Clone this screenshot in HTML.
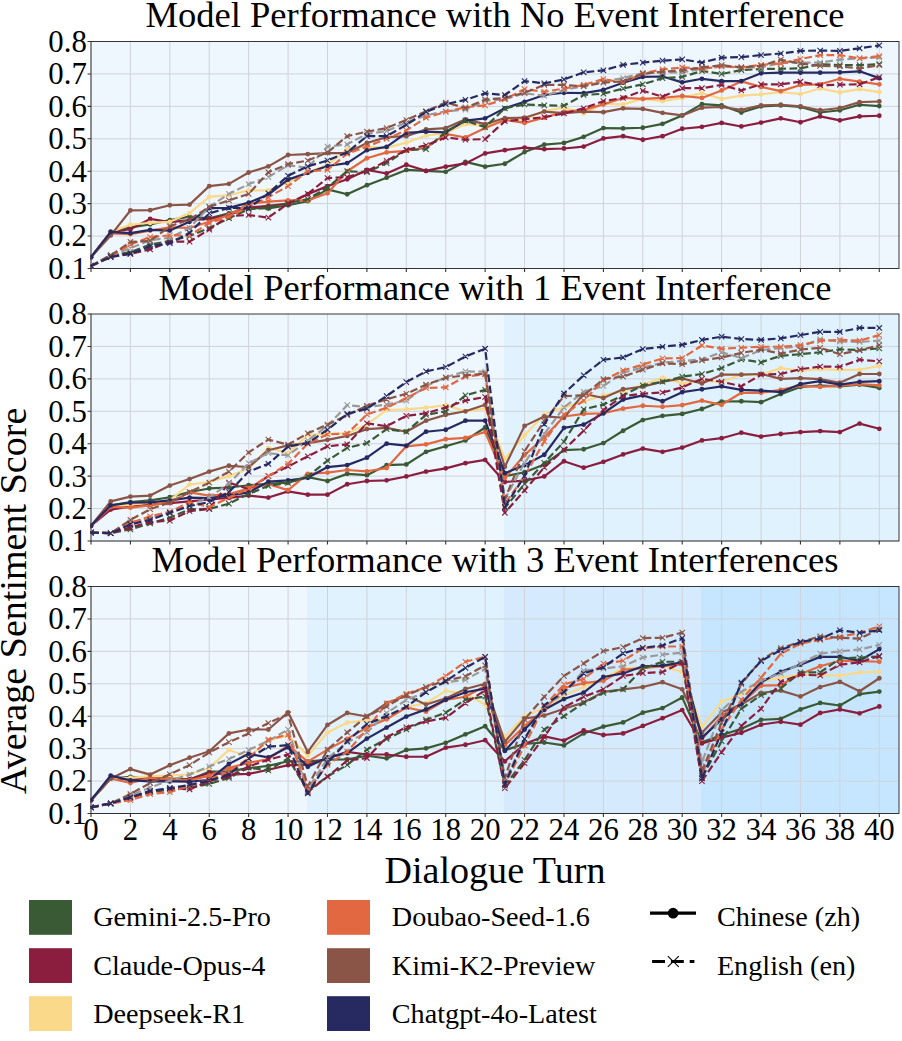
<!DOCTYPE html><html><head><meta charset="utf-8"><style>html,body{margin:0;padding:0;background:#fff;width:902px;height:1041px;overflow:hidden}</style></head><body><svg width="902" height="1041" viewBox="0 0 902 1041" style="display:block">
<rect width="902" height="1041" fill="#ffffff"/>
<rect x="91.00" y="41.50" width="808.00" height="227.00" fill="#eef6fe"/>
<path d="M91.00 268.50H899.00M91.00 236.07H899.00M91.00 203.64H899.00M91.00 171.21H899.00M91.00 138.79H899.00M91.00 106.36H899.00M91.00 73.93H899.00M91.00 41.50V268.50M130.41 41.50V268.50M169.83 41.50V268.50M209.24 41.50V268.50M248.66 41.50V268.50M288.07 41.50V268.50M327.49 41.50V268.50M366.90 41.50V268.50M406.32 41.50V268.50M445.73 41.50V268.50M485.15 41.50V268.50M524.56 41.50V268.50M563.98 41.50V268.50M603.39 41.50V268.50M642.80 41.50V268.50M682.22 41.50V268.50M721.63 41.50V268.50M761.05 41.50V268.50M800.46 41.50V268.50M839.88 41.50V268.50M879.29 41.50V268.50" stroke="#cfd3da" stroke-width="1" fill="none"/>
<rect x="91.00" y="41.50" width="808.00" height="227.00" fill="none" stroke="#222" stroke-width="0.9"/>
<g clip-path="url(#c0)">
<path d="M91.00 257.15 L110.71 231.86 L130.41 227.32 L150.12 224.40 L169.83 220.18 L189.54 216.61 L209.24 218.24 L228.95 213.37 L248.66 208.18 L268.37 208.51 L288.07 205.26 L307.78 201.05 L327.49 189.37 L347.20 194.24 L366.90 185.16 L386.61 177.70 L406.32 169.92 L426.02 170.89 L445.73 171.86 L465.44 161.81 L485.15 166.67 L504.85 163.76 L524.56 152.08 L544.27 144.62 L563.98 143.00 L583.68 136.84 L603.39 128.08 L623.10 128.41 L642.80 127.76 L662.51 123.87 L682.22 115.44 L701.93 104.09 L721.63 105.38 L741.34 112.52 L761.05 106.36 L780.76 105.38 L800.46 107.01 L820.17 112.52 L839.88 110.25 L859.59 104.74 L879.29 106.03" stroke="#3a5a36" stroke-width="2.2" fill="none" stroke-linejoin="round"/>
<circle cx="91.00" cy="257.15" r="2.4" fill="#3a5a36"/>
<circle cx="110.71" cy="231.86" r="2.4" fill="#3a5a36"/>
<circle cx="130.41" cy="227.32" r="2.4" fill="#3a5a36"/>
<circle cx="150.12" cy="224.40" r="2.4" fill="#3a5a36"/>
<circle cx="169.83" cy="220.18" r="2.4" fill="#3a5a36"/>
<circle cx="189.54" cy="216.61" r="2.4" fill="#3a5a36"/>
<circle cx="209.24" cy="218.24" r="2.4" fill="#3a5a36"/>
<circle cx="228.95" cy="213.37" r="2.4" fill="#3a5a36"/>
<circle cx="248.66" cy="208.18" r="2.4" fill="#3a5a36"/>
<circle cx="268.37" cy="208.51" r="2.4" fill="#3a5a36"/>
<circle cx="288.07" cy="205.26" r="2.4" fill="#3a5a36"/>
<circle cx="307.78" cy="201.05" r="2.4" fill="#3a5a36"/>
<circle cx="327.49" cy="189.37" r="2.4" fill="#3a5a36"/>
<circle cx="347.20" cy="194.24" r="2.4" fill="#3a5a36"/>
<circle cx="366.90" cy="185.16" r="2.4" fill="#3a5a36"/>
<circle cx="386.61" cy="177.70" r="2.4" fill="#3a5a36"/>
<circle cx="406.32" cy="169.92" r="2.4" fill="#3a5a36"/>
<circle cx="426.02" cy="170.89" r="2.4" fill="#3a5a36"/>
<circle cx="445.73" cy="171.86" r="2.4" fill="#3a5a36"/>
<circle cx="465.44" cy="161.81" r="2.4" fill="#3a5a36"/>
<circle cx="485.15" cy="166.67" r="2.4" fill="#3a5a36"/>
<circle cx="504.85" cy="163.76" r="2.4" fill="#3a5a36"/>
<circle cx="524.56" cy="152.08" r="2.4" fill="#3a5a36"/>
<circle cx="544.27" cy="144.62" r="2.4" fill="#3a5a36"/>
<circle cx="563.98" cy="143.00" r="2.4" fill="#3a5a36"/>
<circle cx="583.68" cy="136.84" r="2.4" fill="#3a5a36"/>
<circle cx="603.39" cy="128.08" r="2.4" fill="#3a5a36"/>
<circle cx="623.10" cy="128.41" r="2.4" fill="#3a5a36"/>
<circle cx="642.80" cy="127.76" r="2.4" fill="#3a5a36"/>
<circle cx="662.51" cy="123.87" r="2.4" fill="#3a5a36"/>
<circle cx="682.22" cy="115.44" r="2.4" fill="#3a5a36"/>
<circle cx="701.93" cy="104.09" r="2.4" fill="#3a5a36"/>
<circle cx="721.63" cy="105.38" r="2.4" fill="#3a5a36"/>
<circle cx="741.34" cy="112.52" r="2.4" fill="#3a5a36"/>
<circle cx="761.05" cy="106.36" r="2.4" fill="#3a5a36"/>
<circle cx="780.76" cy="105.38" r="2.4" fill="#3a5a36"/>
<circle cx="800.46" cy="107.01" r="2.4" fill="#3a5a36"/>
<circle cx="820.17" cy="112.52" r="2.4" fill="#3a5a36"/>
<circle cx="839.88" cy="110.25" r="2.4" fill="#3a5a36"/>
<circle cx="859.59" cy="104.74" r="2.4" fill="#3a5a36"/>
<circle cx="879.29" cy="106.03" r="2.4" fill="#3a5a36"/>
<path d="M91.00 257.15 L110.71 231.86 L130.41 229.26 L150.12 218.88 L169.83 222.13 L189.54 220.18 L209.24 218.88 L228.95 214.99 L248.66 207.53 L268.37 205.91 L288.07 203.64 L307.78 194.24 L327.49 186.13 L347.20 179.32 L366.90 169.92 L386.61 173.48 L406.32 164.73 L426.02 170.89 L445.73 166.67 L465.44 163.43 L485.15 153.38 L504.85 150.14 L524.56 147.54 L544.27 149.16 L563.98 148.51 L583.68 146.57 L603.39 138.46 L623.10 136.19 L642.80 139.76 L662.51 136.19 L682.22 128.73 L701.93 126.79 L721.63 122.90 L741.34 126.46 L761.05 122.57 L780.76 118.36 L800.46 122.25 L820.17 116.41 L839.88 120.30 L859.59 116.41 L879.29 115.76" stroke="#8b1e3e" stroke-width="2.2" fill="none" stroke-linejoin="round"/>
<circle cx="91.00" cy="257.15" r="2.4" fill="#8b1e3e"/>
<circle cx="110.71" cy="231.86" r="2.4" fill="#8b1e3e"/>
<circle cx="130.41" cy="229.26" r="2.4" fill="#8b1e3e"/>
<circle cx="150.12" cy="218.88" r="2.4" fill="#8b1e3e"/>
<circle cx="169.83" cy="222.13" r="2.4" fill="#8b1e3e"/>
<circle cx="189.54" cy="220.18" r="2.4" fill="#8b1e3e"/>
<circle cx="209.24" cy="218.88" r="2.4" fill="#8b1e3e"/>
<circle cx="228.95" cy="214.99" r="2.4" fill="#8b1e3e"/>
<circle cx="248.66" cy="207.53" r="2.4" fill="#8b1e3e"/>
<circle cx="268.37" cy="205.91" r="2.4" fill="#8b1e3e"/>
<circle cx="288.07" cy="203.64" r="2.4" fill="#8b1e3e"/>
<circle cx="307.78" cy="194.24" r="2.4" fill="#8b1e3e"/>
<circle cx="327.49" cy="186.13" r="2.4" fill="#8b1e3e"/>
<circle cx="347.20" cy="179.32" r="2.4" fill="#8b1e3e"/>
<circle cx="366.90" cy="169.92" r="2.4" fill="#8b1e3e"/>
<circle cx="386.61" cy="173.48" r="2.4" fill="#8b1e3e"/>
<circle cx="406.32" cy="164.73" r="2.4" fill="#8b1e3e"/>
<circle cx="426.02" cy="170.89" r="2.4" fill="#8b1e3e"/>
<circle cx="445.73" cy="166.67" r="2.4" fill="#8b1e3e"/>
<circle cx="465.44" cy="163.43" r="2.4" fill="#8b1e3e"/>
<circle cx="485.15" cy="153.38" r="2.4" fill="#8b1e3e"/>
<circle cx="504.85" cy="150.14" r="2.4" fill="#8b1e3e"/>
<circle cx="524.56" cy="147.54" r="2.4" fill="#8b1e3e"/>
<circle cx="544.27" cy="149.16" r="2.4" fill="#8b1e3e"/>
<circle cx="563.98" cy="148.51" r="2.4" fill="#8b1e3e"/>
<circle cx="583.68" cy="146.57" r="2.4" fill="#8b1e3e"/>
<circle cx="603.39" cy="138.46" r="2.4" fill="#8b1e3e"/>
<circle cx="623.10" cy="136.19" r="2.4" fill="#8b1e3e"/>
<circle cx="642.80" cy="139.76" r="2.4" fill="#8b1e3e"/>
<circle cx="662.51" cy="136.19" r="2.4" fill="#8b1e3e"/>
<circle cx="682.22" cy="128.73" r="2.4" fill="#8b1e3e"/>
<circle cx="701.93" cy="126.79" r="2.4" fill="#8b1e3e"/>
<circle cx="721.63" cy="122.90" r="2.4" fill="#8b1e3e"/>
<circle cx="741.34" cy="126.46" r="2.4" fill="#8b1e3e"/>
<circle cx="761.05" cy="122.57" r="2.4" fill="#8b1e3e"/>
<circle cx="780.76" cy="118.36" r="2.4" fill="#8b1e3e"/>
<circle cx="800.46" cy="122.25" r="2.4" fill="#8b1e3e"/>
<circle cx="820.17" cy="116.41" r="2.4" fill="#8b1e3e"/>
<circle cx="839.88" cy="120.30" r="2.4" fill="#8b1e3e"/>
<circle cx="859.59" cy="116.41" r="2.4" fill="#8b1e3e"/>
<circle cx="879.29" cy="115.76" r="2.4" fill="#8b1e3e"/>
<path d="M91.00 257.15 L110.71 231.86 L130.41 224.72 L150.12 222.78 L169.83 221.80 L189.54 213.05 L209.24 196.83 L228.95 195.21 L248.66 190.35 L268.37 190.35 L288.07 182.56 L307.78 172.19 L327.49 165.38 L347.20 148.84 L366.90 146.89 L386.61 147.87 L406.32 142.68 L426.02 135.54 L445.73 132.95 L465.44 124.19 L485.15 125.81 L504.85 119.98 L524.56 119.33 L544.27 111.22 L563.98 107.33 L583.68 113.49 L603.39 103.76 L623.10 104.41 L642.80 98.90 L662.51 101.17 L682.22 97.93 L701.93 93.06 L721.63 98.90 L741.34 95.66 L761.05 94.36 L780.76 92.09 L800.46 94.03 L820.17 88.52 L839.88 92.41 L859.59 89.17 L879.29 92.09" stroke="#fbd98a" stroke-width="2.2" fill="none" stroke-linejoin="round"/>
<circle cx="91.00" cy="257.15" r="2.4" fill="#fbd98a"/>
<circle cx="110.71" cy="231.86" r="2.4" fill="#fbd98a"/>
<circle cx="130.41" cy="224.72" r="2.4" fill="#fbd98a"/>
<circle cx="150.12" cy="222.78" r="2.4" fill="#fbd98a"/>
<circle cx="169.83" cy="221.80" r="2.4" fill="#fbd98a"/>
<circle cx="189.54" cy="213.05" r="2.4" fill="#fbd98a"/>
<circle cx="209.24" cy="196.83" r="2.4" fill="#fbd98a"/>
<circle cx="228.95" cy="195.21" r="2.4" fill="#fbd98a"/>
<circle cx="248.66" cy="190.35" r="2.4" fill="#fbd98a"/>
<circle cx="268.37" cy="190.35" r="2.4" fill="#fbd98a"/>
<circle cx="288.07" cy="182.56" r="2.4" fill="#fbd98a"/>
<circle cx="307.78" cy="172.19" r="2.4" fill="#fbd98a"/>
<circle cx="327.49" cy="165.38" r="2.4" fill="#fbd98a"/>
<circle cx="347.20" cy="148.84" r="2.4" fill="#fbd98a"/>
<circle cx="366.90" cy="146.89" r="2.4" fill="#fbd98a"/>
<circle cx="386.61" cy="147.87" r="2.4" fill="#fbd98a"/>
<circle cx="406.32" cy="142.68" r="2.4" fill="#fbd98a"/>
<circle cx="426.02" cy="135.54" r="2.4" fill="#fbd98a"/>
<circle cx="445.73" cy="132.95" r="2.4" fill="#fbd98a"/>
<circle cx="465.44" cy="124.19" r="2.4" fill="#fbd98a"/>
<circle cx="485.15" cy="125.81" r="2.4" fill="#fbd98a"/>
<circle cx="504.85" cy="119.98" r="2.4" fill="#fbd98a"/>
<circle cx="524.56" cy="119.33" r="2.4" fill="#fbd98a"/>
<circle cx="544.27" cy="111.22" r="2.4" fill="#fbd98a"/>
<circle cx="563.98" cy="107.33" r="2.4" fill="#fbd98a"/>
<circle cx="583.68" cy="113.49" r="2.4" fill="#fbd98a"/>
<circle cx="603.39" cy="103.76" r="2.4" fill="#fbd98a"/>
<circle cx="623.10" cy="104.41" r="2.4" fill="#fbd98a"/>
<circle cx="642.80" cy="98.90" r="2.4" fill="#fbd98a"/>
<circle cx="662.51" cy="101.17" r="2.4" fill="#fbd98a"/>
<circle cx="682.22" cy="97.93" r="2.4" fill="#fbd98a"/>
<circle cx="701.93" cy="93.06" r="2.4" fill="#fbd98a"/>
<circle cx="721.63" cy="98.90" r="2.4" fill="#fbd98a"/>
<circle cx="741.34" cy="95.66" r="2.4" fill="#fbd98a"/>
<circle cx="761.05" cy="94.36" r="2.4" fill="#fbd98a"/>
<circle cx="780.76" cy="92.09" r="2.4" fill="#fbd98a"/>
<circle cx="800.46" cy="94.03" r="2.4" fill="#fbd98a"/>
<circle cx="820.17" cy="88.52" r="2.4" fill="#fbd98a"/>
<circle cx="839.88" cy="92.41" r="2.4" fill="#fbd98a"/>
<circle cx="859.59" cy="89.17" r="2.4" fill="#fbd98a"/>
<circle cx="879.29" cy="92.09" r="2.4" fill="#fbd98a"/>
<path d="M91.00 257.15 L110.71 233.48 L130.41 234.13 L150.12 230.56 L169.83 227.32 L189.54 227.96 L209.24 221.80 L228.95 214.99 L248.66 203.64 L268.37 201.70 L288.07 200.40 L307.78 200.40 L327.49 193.27 L347.20 171.21 L366.90 158.24 L386.61 152.41 L406.32 150.78 L426.02 147.87 L445.73 133.92 L465.44 137.49 L485.15 128.08 L504.85 119.98 L524.56 122.90 L544.27 117.71 L563.98 111.87 L583.68 109.92 L603.39 104.41 L623.10 97.93 L642.80 98.90 L662.51 97.93 L682.22 95.98 L701.93 97.93 L721.63 90.47 L741.34 81.39 L761.05 86.90 L780.76 91.12 L800.46 84.95 L820.17 84.31 L839.88 78.79 L859.59 81.71 L879.29 84.31" stroke="#e26841" stroke-width="2.2" fill="none" stroke-linejoin="round"/>
<circle cx="91.00" cy="257.15" r="2.4" fill="#e26841"/>
<circle cx="110.71" cy="233.48" r="2.4" fill="#e26841"/>
<circle cx="130.41" cy="234.13" r="2.4" fill="#e26841"/>
<circle cx="150.12" cy="230.56" r="2.4" fill="#e26841"/>
<circle cx="169.83" cy="227.32" r="2.4" fill="#e26841"/>
<circle cx="189.54" cy="227.96" r="2.4" fill="#e26841"/>
<circle cx="209.24" cy="221.80" r="2.4" fill="#e26841"/>
<circle cx="228.95" cy="214.99" r="2.4" fill="#e26841"/>
<circle cx="248.66" cy="203.64" r="2.4" fill="#e26841"/>
<circle cx="268.37" cy="201.70" r="2.4" fill="#e26841"/>
<circle cx="288.07" cy="200.40" r="2.4" fill="#e26841"/>
<circle cx="307.78" cy="200.40" r="2.4" fill="#e26841"/>
<circle cx="327.49" cy="193.27" r="2.4" fill="#e26841"/>
<circle cx="347.20" cy="171.21" r="2.4" fill="#e26841"/>
<circle cx="366.90" cy="158.24" r="2.4" fill="#e26841"/>
<circle cx="386.61" cy="152.41" r="2.4" fill="#e26841"/>
<circle cx="406.32" cy="150.78" r="2.4" fill="#e26841"/>
<circle cx="426.02" cy="147.87" r="2.4" fill="#e26841"/>
<circle cx="445.73" cy="133.92" r="2.4" fill="#e26841"/>
<circle cx="465.44" cy="137.49" r="2.4" fill="#e26841"/>
<circle cx="485.15" cy="128.08" r="2.4" fill="#e26841"/>
<circle cx="504.85" cy="119.98" r="2.4" fill="#e26841"/>
<circle cx="524.56" cy="122.90" r="2.4" fill="#e26841"/>
<circle cx="544.27" cy="117.71" r="2.4" fill="#e26841"/>
<circle cx="563.98" cy="111.87" r="2.4" fill="#e26841"/>
<circle cx="583.68" cy="109.92" r="2.4" fill="#e26841"/>
<circle cx="603.39" cy="104.41" r="2.4" fill="#e26841"/>
<circle cx="623.10" cy="97.93" r="2.4" fill="#e26841"/>
<circle cx="642.80" cy="98.90" r="2.4" fill="#e26841"/>
<circle cx="662.51" cy="97.93" r="2.4" fill="#e26841"/>
<circle cx="682.22" cy="95.98" r="2.4" fill="#e26841"/>
<circle cx="701.93" cy="97.93" r="2.4" fill="#e26841"/>
<circle cx="721.63" cy="90.47" r="2.4" fill="#e26841"/>
<circle cx="741.34" cy="81.39" r="2.4" fill="#e26841"/>
<circle cx="761.05" cy="86.90" r="2.4" fill="#e26841"/>
<circle cx="780.76" cy="91.12" r="2.4" fill="#e26841"/>
<circle cx="800.46" cy="84.95" r="2.4" fill="#e26841"/>
<circle cx="820.17" cy="84.31" r="2.4" fill="#e26841"/>
<circle cx="839.88" cy="78.79" r="2.4" fill="#e26841"/>
<circle cx="859.59" cy="81.71" r="2.4" fill="#e26841"/>
<circle cx="879.29" cy="84.31" r="2.4" fill="#e26841"/>
<path d="M91.00 257.15 L110.71 235.42 L130.41 210.45 L150.12 210.13 L169.83 205.26 L189.54 204.62 L209.24 186.13 L228.95 183.86 L248.66 172.51 L268.37 166.35 L288.07 155.00 L307.78 154.03 L327.49 153.05 L347.20 153.05 L366.90 143.00 L386.61 137.16 L406.32 136.19 L426.02 129.38 L445.73 128.08 L465.44 119.33 L485.15 124.19 L504.85 118.03 L524.56 117.71 L544.27 111.55 L563.98 113.17 L583.68 111.55 L603.39 112.19 L623.10 108.30 L642.80 108.95 L662.51 112.84 L682.22 115.44 L701.93 107.65 L721.63 107.01 L741.34 109.92 L761.05 105.38 L780.76 104.74 L800.46 106.36 L820.17 110.25 L839.88 107.98 L859.59 102.14 L879.29 101.49" stroke="#8a5547" stroke-width="2.2" fill="none" stroke-linejoin="round"/>
<circle cx="91.00" cy="257.15" r="2.4" fill="#8a5547"/>
<circle cx="110.71" cy="235.42" r="2.4" fill="#8a5547"/>
<circle cx="130.41" cy="210.45" r="2.4" fill="#8a5547"/>
<circle cx="150.12" cy="210.13" r="2.4" fill="#8a5547"/>
<circle cx="169.83" cy="205.26" r="2.4" fill="#8a5547"/>
<circle cx="189.54" cy="204.62" r="2.4" fill="#8a5547"/>
<circle cx="209.24" cy="186.13" r="2.4" fill="#8a5547"/>
<circle cx="228.95" cy="183.86" r="2.4" fill="#8a5547"/>
<circle cx="248.66" cy="172.51" r="2.4" fill="#8a5547"/>
<circle cx="268.37" cy="166.35" r="2.4" fill="#8a5547"/>
<circle cx="288.07" cy="155.00" r="2.4" fill="#8a5547"/>
<circle cx="307.78" cy="154.03" r="2.4" fill="#8a5547"/>
<circle cx="327.49" cy="153.05" r="2.4" fill="#8a5547"/>
<circle cx="347.20" cy="153.05" r="2.4" fill="#8a5547"/>
<circle cx="366.90" cy="143.00" r="2.4" fill="#8a5547"/>
<circle cx="386.61" cy="137.16" r="2.4" fill="#8a5547"/>
<circle cx="406.32" cy="136.19" r="2.4" fill="#8a5547"/>
<circle cx="426.02" cy="129.38" r="2.4" fill="#8a5547"/>
<circle cx="445.73" cy="128.08" r="2.4" fill="#8a5547"/>
<circle cx="465.44" cy="119.33" r="2.4" fill="#8a5547"/>
<circle cx="485.15" cy="124.19" r="2.4" fill="#8a5547"/>
<circle cx="504.85" cy="118.03" r="2.4" fill="#8a5547"/>
<circle cx="524.56" cy="117.71" r="2.4" fill="#8a5547"/>
<circle cx="544.27" cy="111.55" r="2.4" fill="#8a5547"/>
<circle cx="563.98" cy="113.17" r="2.4" fill="#8a5547"/>
<circle cx="583.68" cy="111.55" r="2.4" fill="#8a5547"/>
<circle cx="603.39" cy="112.19" r="2.4" fill="#8a5547"/>
<circle cx="623.10" cy="108.30" r="2.4" fill="#8a5547"/>
<circle cx="642.80" cy="108.95" r="2.4" fill="#8a5547"/>
<circle cx="662.51" cy="112.84" r="2.4" fill="#8a5547"/>
<circle cx="682.22" cy="115.44" r="2.4" fill="#8a5547"/>
<circle cx="701.93" cy="107.65" r="2.4" fill="#8a5547"/>
<circle cx="721.63" cy="107.01" r="2.4" fill="#8a5547"/>
<circle cx="741.34" cy="109.92" r="2.4" fill="#8a5547"/>
<circle cx="761.05" cy="105.38" r="2.4" fill="#8a5547"/>
<circle cx="780.76" cy="104.74" r="2.4" fill="#8a5547"/>
<circle cx="800.46" cy="106.36" r="2.4" fill="#8a5547"/>
<circle cx="820.17" cy="110.25" r="2.4" fill="#8a5547"/>
<circle cx="839.88" cy="107.98" r="2.4" fill="#8a5547"/>
<circle cx="859.59" cy="102.14" r="2.4" fill="#8a5547"/>
<circle cx="879.29" cy="101.49" r="2.4" fill="#8a5547"/>
<path d="M91.00 257.15 L110.71 231.86 L130.41 233.15 L150.12 229.91 L169.83 230.56 L189.54 221.80 L209.24 208.18 L228.95 207.86 L248.66 202.67 L268.37 194.56 L288.07 179.65 L307.78 172.84 L327.49 166.03 L347.20 163.11 L366.90 150.14 L386.61 146.89 L406.32 132.95 L426.02 131.65 L445.73 132.30 L465.44 120.63 L485.15 118.36 L504.85 108.30 L524.56 101.82 L544.27 95.01 L563.98 92.74 L583.68 93.06 L603.39 89.82 L623.10 82.68 L642.80 76.85 L662.51 76.52 L682.22 82.36 L701.93 78.79 L721.63 81.06 L741.34 81.06 L761.05 73.28 L780.76 72.63 L800.46 72.63 L820.17 72.63 L839.88 72.31 L859.59 71.33 L879.29 78.14" stroke="#272a60" stroke-width="2.2" fill="none" stroke-linejoin="round"/>
<circle cx="91.00" cy="257.15" r="2.4" fill="#272a60"/>
<circle cx="110.71" cy="231.86" r="2.4" fill="#272a60"/>
<circle cx="130.41" cy="233.15" r="2.4" fill="#272a60"/>
<circle cx="150.12" cy="229.91" r="2.4" fill="#272a60"/>
<circle cx="169.83" cy="230.56" r="2.4" fill="#272a60"/>
<circle cx="189.54" cy="221.80" r="2.4" fill="#272a60"/>
<circle cx="209.24" cy="208.18" r="2.4" fill="#272a60"/>
<circle cx="228.95" cy="207.86" r="2.4" fill="#272a60"/>
<circle cx="248.66" cy="202.67" r="2.4" fill="#272a60"/>
<circle cx="268.37" cy="194.56" r="2.4" fill="#272a60"/>
<circle cx="288.07" cy="179.65" r="2.4" fill="#272a60"/>
<circle cx="307.78" cy="172.84" r="2.4" fill="#272a60"/>
<circle cx="327.49" cy="166.03" r="2.4" fill="#272a60"/>
<circle cx="347.20" cy="163.11" r="2.4" fill="#272a60"/>
<circle cx="366.90" cy="150.14" r="2.4" fill="#272a60"/>
<circle cx="386.61" cy="146.89" r="2.4" fill="#272a60"/>
<circle cx="406.32" cy="132.95" r="2.4" fill="#272a60"/>
<circle cx="426.02" cy="131.65" r="2.4" fill="#272a60"/>
<circle cx="445.73" cy="132.30" r="2.4" fill="#272a60"/>
<circle cx="465.44" cy="120.63" r="2.4" fill="#272a60"/>
<circle cx="485.15" cy="118.36" r="2.4" fill="#272a60"/>
<circle cx="504.85" cy="108.30" r="2.4" fill="#272a60"/>
<circle cx="524.56" cy="101.82" r="2.4" fill="#272a60"/>
<circle cx="544.27" cy="95.01" r="2.4" fill="#272a60"/>
<circle cx="563.98" cy="92.74" r="2.4" fill="#272a60"/>
<circle cx="583.68" cy="93.06" r="2.4" fill="#272a60"/>
<circle cx="603.39" cy="89.82" r="2.4" fill="#272a60"/>
<circle cx="623.10" cy="82.68" r="2.4" fill="#272a60"/>
<circle cx="642.80" cy="76.85" r="2.4" fill="#272a60"/>
<circle cx="662.51" cy="76.52" r="2.4" fill="#272a60"/>
<circle cx="682.22" cy="82.36" r="2.4" fill="#272a60"/>
<circle cx="701.93" cy="78.79" r="2.4" fill="#272a60"/>
<circle cx="721.63" cy="81.06" r="2.4" fill="#272a60"/>
<circle cx="741.34" cy="81.06" r="2.4" fill="#272a60"/>
<circle cx="761.05" cy="73.28" r="2.4" fill="#272a60"/>
<circle cx="780.76" cy="72.63" r="2.4" fill="#272a60"/>
<circle cx="800.46" cy="72.63" r="2.4" fill="#272a60"/>
<circle cx="820.17" cy="72.63" r="2.4" fill="#272a60"/>
<circle cx="839.88" cy="72.31" r="2.4" fill="#272a60"/>
<circle cx="859.59" cy="71.33" r="2.4" fill="#272a60"/>
<circle cx="879.29" cy="78.14" r="2.4" fill="#272a60"/>
<path d="M91.00 265.91 L110.71 255.20 L130.41 252.29 L150.12 244.50 L169.83 240.94 L189.54 236.07 L209.24 227.96 L228.95 218.24 L248.66 209.16 L268.37 207.53 L288.07 202.99 L307.78 199.10 L327.49 187.43 L347.20 171.21 L366.90 172.19 L386.61 163.11 L406.32 150.14 L426.02 149.16 L445.73 131.65 L465.44 120.63 L485.15 127.11 L504.85 108.30 L524.56 104.41 L544.27 105.38 L563.98 105.71 L583.68 95.01 L603.39 93.71 L623.10 88.52 L642.80 84.31 L662.51 78.14 L682.22 76.85 L701.93 71.01 L721.63 73.93 L741.34 70.04 L761.05 69.06 L780.76 68.74 L800.46 68.42 L820.17 64.20 L839.88 65.17 L859.59 65.17 L879.29 64.20" stroke="#3a5a36" stroke-width="2.2" fill="none" stroke-dasharray="7.8,3.4" stroke-linejoin="round"/>
<path d="M88.30 263.21l5.4 5.4m0 -5.4l-5.4 5.4M108.01 252.50l5.4 5.4m0 -5.4l-5.4 5.4M127.71 249.59l5.4 5.4m0 -5.4l-5.4 5.4M147.42 241.80l5.4 5.4m0 -5.4l-5.4 5.4M167.13 238.24l5.4 5.4m0 -5.4l-5.4 5.4M186.84 233.37l5.4 5.4m0 -5.4l-5.4 5.4M206.54 225.26l5.4 5.4m0 -5.4l-5.4 5.4M226.25 215.54l5.4 5.4m0 -5.4l-5.4 5.4M245.96 206.46l5.4 5.4m0 -5.4l-5.4 5.4M265.67 204.83l5.4 5.4m0 -5.4l-5.4 5.4M285.37 200.29l5.4 5.4m0 -5.4l-5.4 5.4M305.08 196.40l5.4 5.4m0 -5.4l-5.4 5.4M324.79 184.73l5.4 5.4m0 -5.4l-5.4 5.4M344.50 168.51l5.4 5.4m0 -5.4l-5.4 5.4M364.20 169.49l5.4 5.4m0 -5.4l-5.4 5.4M383.91 160.41l5.4 5.4m0 -5.4l-5.4 5.4M403.62 147.44l5.4 5.4m0 -5.4l-5.4 5.4M423.32 146.46l5.4 5.4m0 -5.4l-5.4 5.4M443.03 128.95l5.4 5.4m0 -5.4l-5.4 5.4M462.74 117.93l5.4 5.4m0 -5.4l-5.4 5.4M482.45 124.41l5.4 5.4m0 -5.4l-5.4 5.4M502.15 105.60l5.4 5.4m0 -5.4l-5.4 5.4M521.86 101.71l5.4 5.4m0 -5.4l-5.4 5.4M541.57 102.68l5.4 5.4m0 -5.4l-5.4 5.4M561.28 103.01l5.4 5.4m0 -5.4l-5.4 5.4M580.98 92.31l5.4 5.4m0 -5.4l-5.4 5.4M600.69 91.01l5.4 5.4m0 -5.4l-5.4 5.4M620.40 85.82l5.4 5.4m0 -5.4l-5.4 5.4M640.10 81.61l5.4 5.4m0 -5.4l-5.4 5.4M659.81 75.44l5.4 5.4m0 -5.4l-5.4 5.4M679.52 74.15l5.4 5.4m0 -5.4l-5.4 5.4M699.23 68.31l5.4 5.4m0 -5.4l-5.4 5.4M718.93 71.23l5.4 5.4m0 -5.4l-5.4 5.4M738.64 67.34l5.4 5.4m0 -5.4l-5.4 5.4M758.35 66.36l5.4 5.4m0 -5.4l-5.4 5.4M778.06 66.04l5.4 5.4m0 -5.4l-5.4 5.4M797.76 65.72l5.4 5.4m0 -5.4l-5.4 5.4M817.47 61.50l5.4 5.4m0 -5.4l-5.4 5.4M837.18 62.47l5.4 5.4m0 -5.4l-5.4 5.4M856.89 62.47l5.4 5.4m0 -5.4l-5.4 5.4M876.59 61.50l5.4 5.4m0 -5.4l-5.4 5.4" stroke="#3a5a36" stroke-width="1.1" fill="none"/>
<path d="M91.00 265.91 L110.71 257.15 L130.41 253.91 L150.12 249.37 L169.83 241.58 L189.54 241.58 L209.24 229.59 L228.95 215.97 L248.66 214.99 L268.37 217.59 L288.07 203.64 L307.78 193.91 L327.49 178.02 L347.20 177.05 L366.90 171.21 L386.61 160.84 L406.32 149.81 L426.02 145.27 L445.73 137.49 L465.44 139.76 L485.15 139.11 L504.85 121.27 L524.56 119.33 L544.27 117.06 L563.98 113.49 L583.68 108.30 L603.39 101.17 L623.10 97.93 L642.80 90.79 L662.51 96.63 L682.22 88.20 L701.93 88.20 L721.63 84.95 L741.34 90.47 L761.05 84.31 L780.76 84.31 L800.46 81.71 L820.17 85.28 L839.88 84.63 L859.59 84.31 L879.29 77.17" stroke="#8b1e3e" stroke-width="2.2" fill="none" stroke-dasharray="7.8,3.4" stroke-linejoin="round"/>
<path d="M88.30 263.21l5.4 5.4m0 -5.4l-5.4 5.4M108.01 254.45l5.4 5.4m0 -5.4l-5.4 5.4M127.71 251.21l5.4 5.4m0 -5.4l-5.4 5.4M147.42 246.67l5.4 5.4m0 -5.4l-5.4 5.4M167.13 238.88l5.4 5.4m0 -5.4l-5.4 5.4M186.84 238.88l5.4 5.4m0 -5.4l-5.4 5.4M206.54 226.89l5.4 5.4m0 -5.4l-5.4 5.4M226.25 213.27l5.4 5.4m0 -5.4l-5.4 5.4M245.96 212.29l5.4 5.4m0 -5.4l-5.4 5.4M265.67 214.89l5.4 5.4m0 -5.4l-5.4 5.4M285.37 200.94l5.4 5.4m0 -5.4l-5.4 5.4M305.08 191.21l5.4 5.4m0 -5.4l-5.4 5.4M324.79 175.32l5.4 5.4m0 -5.4l-5.4 5.4M344.50 174.35l5.4 5.4m0 -5.4l-5.4 5.4M364.20 168.51l5.4 5.4m0 -5.4l-5.4 5.4M383.91 158.14l5.4 5.4m0 -5.4l-5.4 5.4M403.62 147.11l5.4 5.4m0 -5.4l-5.4 5.4M423.32 142.57l5.4 5.4m0 -5.4l-5.4 5.4M443.03 134.79l5.4 5.4m0 -5.4l-5.4 5.4M462.74 137.06l5.4 5.4m0 -5.4l-5.4 5.4M482.45 136.41l5.4 5.4m0 -5.4l-5.4 5.4M502.15 118.57l5.4 5.4m0 -5.4l-5.4 5.4M521.86 116.63l5.4 5.4m0 -5.4l-5.4 5.4M541.57 114.36l5.4 5.4m0 -5.4l-5.4 5.4M561.28 110.79l5.4 5.4m0 -5.4l-5.4 5.4M580.98 105.60l5.4 5.4m0 -5.4l-5.4 5.4M600.69 98.47l5.4 5.4m0 -5.4l-5.4 5.4M620.40 95.23l5.4 5.4m0 -5.4l-5.4 5.4M640.10 88.09l5.4 5.4m0 -5.4l-5.4 5.4M659.81 93.93l5.4 5.4m0 -5.4l-5.4 5.4M679.52 85.50l5.4 5.4m0 -5.4l-5.4 5.4M699.23 85.50l5.4 5.4m0 -5.4l-5.4 5.4M718.93 82.25l5.4 5.4m0 -5.4l-5.4 5.4M738.64 87.77l5.4 5.4m0 -5.4l-5.4 5.4M758.35 81.61l5.4 5.4m0 -5.4l-5.4 5.4M778.06 81.61l5.4 5.4m0 -5.4l-5.4 5.4M797.76 79.01l5.4 5.4m0 -5.4l-5.4 5.4M817.47 82.58l5.4 5.4m0 -5.4l-5.4 5.4M837.18 81.93l5.4 5.4m0 -5.4l-5.4 5.4M856.89 81.61l5.4 5.4m0 -5.4l-5.4 5.4M876.59 74.47l5.4 5.4m0 -5.4l-5.4 5.4" stroke="#8b1e3e" stroke-width="1.1" fill="none"/>
<path d="M91.00 265.91 L110.71 256.18 L130.41 248.07 L150.12 240.29 L169.83 237.69 L189.54 227.96 L209.24 206.89 L228.95 193.91 L248.66 184.19 L268.37 177.05 L288.07 165.38 L307.78 167.65 L327.49 146.57 L347.20 144.30 L366.90 133.92 L386.61 131.00 L406.32 122.57 L426.02 115.44 L445.73 111.22 L465.44 109.60 L485.15 100.84 L504.85 99.22 L524.56 93.39 L544.27 95.66 L563.98 90.14 L583.68 85.93 L603.39 81.39 L623.10 78.14 L642.80 72.96 L662.51 72.31 L682.22 72.31 L701.93 68.74 L721.63 66.47 L741.34 67.44 L761.05 67.44 L780.76 62.90 L800.46 62.58 L820.17 62.58 L839.88 59.66 L859.59 58.36 L879.29 57.39" stroke="#9a9a9a" stroke-width="2.2" fill="none" stroke-dasharray="7.8,3.4" stroke-linejoin="round"/>
<path d="M88.30 263.21l5.4 5.4m0 -5.4l-5.4 5.4M108.01 253.48l5.4 5.4m0 -5.4l-5.4 5.4M127.71 245.37l5.4 5.4m0 -5.4l-5.4 5.4M147.42 237.59l5.4 5.4m0 -5.4l-5.4 5.4M167.13 234.99l5.4 5.4m0 -5.4l-5.4 5.4M186.84 225.26l5.4 5.4m0 -5.4l-5.4 5.4M206.54 204.19l5.4 5.4m0 -5.4l-5.4 5.4M226.25 191.21l5.4 5.4m0 -5.4l-5.4 5.4M245.96 181.49l5.4 5.4m0 -5.4l-5.4 5.4M265.67 174.35l5.4 5.4m0 -5.4l-5.4 5.4M285.37 162.68l5.4 5.4m0 -5.4l-5.4 5.4M305.08 164.95l5.4 5.4m0 -5.4l-5.4 5.4M324.79 143.87l5.4 5.4m0 -5.4l-5.4 5.4M344.50 141.60l5.4 5.4m0 -5.4l-5.4 5.4M364.20 131.22l5.4 5.4m0 -5.4l-5.4 5.4M383.91 128.30l5.4 5.4m0 -5.4l-5.4 5.4M403.62 119.87l5.4 5.4m0 -5.4l-5.4 5.4M423.32 112.74l5.4 5.4m0 -5.4l-5.4 5.4M443.03 108.52l5.4 5.4m0 -5.4l-5.4 5.4M462.74 106.90l5.4 5.4m0 -5.4l-5.4 5.4M482.45 98.14l5.4 5.4m0 -5.4l-5.4 5.4M502.15 96.52l5.4 5.4m0 -5.4l-5.4 5.4M521.86 90.69l5.4 5.4m0 -5.4l-5.4 5.4M541.57 92.96l5.4 5.4m0 -5.4l-5.4 5.4M561.28 87.44l5.4 5.4m0 -5.4l-5.4 5.4M580.98 83.23l5.4 5.4m0 -5.4l-5.4 5.4M600.69 78.69l5.4 5.4m0 -5.4l-5.4 5.4M620.40 75.44l5.4 5.4m0 -5.4l-5.4 5.4M640.10 70.26l5.4 5.4m0 -5.4l-5.4 5.4M659.81 69.61l5.4 5.4m0 -5.4l-5.4 5.4M679.52 69.61l5.4 5.4m0 -5.4l-5.4 5.4M699.23 66.04l5.4 5.4m0 -5.4l-5.4 5.4M718.93 63.77l5.4 5.4m0 -5.4l-5.4 5.4M738.64 64.74l5.4 5.4m0 -5.4l-5.4 5.4M758.35 64.74l5.4 5.4m0 -5.4l-5.4 5.4M778.06 60.20l5.4 5.4m0 -5.4l-5.4 5.4M797.76 59.88l5.4 5.4m0 -5.4l-5.4 5.4M817.47 59.88l5.4 5.4m0 -5.4l-5.4 5.4M837.18 56.96l5.4 5.4m0 -5.4l-5.4 5.4M856.89 55.66l5.4 5.4m0 -5.4l-5.4 5.4M876.59 54.69l5.4 5.4m0 -5.4l-5.4 5.4" stroke="#9a9a9a" stroke-width="1.1" fill="none"/>
<path d="M91.00 265.91 L110.71 256.18 L130.41 244.50 L150.12 237.04 L169.83 235.42 L189.54 235.42 L209.24 223.10 L228.95 216.61 L248.66 206.89 L268.37 197.16 L288.07 186.13 L307.78 171.21 L327.49 169.92 L347.20 153.70 L366.90 146.57 L386.61 138.79 L406.32 130.35 L426.02 117.71 L445.73 111.87 L465.44 107.33 L485.15 105.38 L504.85 99.22 L524.56 89.17 L544.27 91.76 L563.98 88.52 L583.68 84.95 L603.39 79.12 L623.10 82.68 L642.80 73.28 L662.51 69.39 L682.22 67.44 L701.93 68.74 L721.63 66.47 L741.34 67.44 L761.05 64.85 L780.76 63.55 L800.46 59.01 L820.17 55.12 L839.88 55.12 L859.59 58.36 L879.29 56.09" stroke="#e26841" stroke-width="2.2" fill="none" stroke-dasharray="7.8,3.4" stroke-linejoin="round"/>
<path d="M88.30 263.21l5.4 5.4m0 -5.4l-5.4 5.4M108.01 253.48l5.4 5.4m0 -5.4l-5.4 5.4M127.71 241.80l5.4 5.4m0 -5.4l-5.4 5.4M147.42 234.34l5.4 5.4m0 -5.4l-5.4 5.4M167.13 232.72l5.4 5.4m0 -5.4l-5.4 5.4M186.84 232.72l5.4 5.4m0 -5.4l-5.4 5.4M206.54 220.40l5.4 5.4m0 -5.4l-5.4 5.4M226.25 213.91l5.4 5.4m0 -5.4l-5.4 5.4M245.96 204.19l5.4 5.4m0 -5.4l-5.4 5.4M265.67 194.46l5.4 5.4m0 -5.4l-5.4 5.4M285.37 183.43l5.4 5.4m0 -5.4l-5.4 5.4M305.08 168.51l5.4 5.4m0 -5.4l-5.4 5.4M324.79 167.22l5.4 5.4m0 -5.4l-5.4 5.4M344.50 151.00l5.4 5.4m0 -5.4l-5.4 5.4M364.20 143.87l5.4 5.4m0 -5.4l-5.4 5.4M383.91 136.09l5.4 5.4m0 -5.4l-5.4 5.4M403.62 127.65l5.4 5.4m0 -5.4l-5.4 5.4M423.32 115.01l5.4 5.4m0 -5.4l-5.4 5.4M443.03 109.17l5.4 5.4m0 -5.4l-5.4 5.4M462.74 104.63l5.4 5.4m0 -5.4l-5.4 5.4M482.45 102.68l5.4 5.4m0 -5.4l-5.4 5.4M502.15 96.52l5.4 5.4m0 -5.4l-5.4 5.4M521.86 86.47l5.4 5.4m0 -5.4l-5.4 5.4M541.57 89.06l5.4 5.4m0 -5.4l-5.4 5.4M561.28 85.82l5.4 5.4m0 -5.4l-5.4 5.4M580.98 82.25l5.4 5.4m0 -5.4l-5.4 5.4M600.69 76.42l5.4 5.4m0 -5.4l-5.4 5.4M620.40 79.98l5.4 5.4m0 -5.4l-5.4 5.4M640.10 70.58l5.4 5.4m0 -5.4l-5.4 5.4M659.81 66.69l5.4 5.4m0 -5.4l-5.4 5.4M679.52 64.74l5.4 5.4m0 -5.4l-5.4 5.4M699.23 66.04l5.4 5.4m0 -5.4l-5.4 5.4M718.93 63.77l5.4 5.4m0 -5.4l-5.4 5.4M738.64 64.74l5.4 5.4m0 -5.4l-5.4 5.4M758.35 62.15l5.4 5.4m0 -5.4l-5.4 5.4M778.06 60.85l5.4 5.4m0 -5.4l-5.4 5.4M797.76 56.31l5.4 5.4m0 -5.4l-5.4 5.4M817.47 52.42l5.4 5.4m0 -5.4l-5.4 5.4M837.18 52.42l5.4 5.4m0 -5.4l-5.4 5.4M856.89 55.66l5.4 5.4m0 -5.4l-5.4 5.4M876.59 53.39l5.4 5.4m0 -5.4l-5.4 5.4" stroke="#e26841" stroke-width="1.1" fill="none"/>
<path d="M91.00 265.91 L110.71 255.53 L130.41 241.91 L150.12 240.94 L169.83 226.34 L189.54 219.53 L209.24 206.89 L228.95 200.40 L248.66 193.91 L268.37 172.19 L288.07 164.08 L307.78 160.51 L327.49 152.41 L347.20 136.19 L366.90 131.65 L386.61 128.08 L406.32 119.98 L426.02 111.22 L445.73 102.47 L465.44 107.98 L485.15 99.55 L504.85 97.93 L524.56 92.74 L544.27 84.95 L563.98 84.95 L583.68 86.25 L603.39 82.68 L623.10 81.39 L642.80 73.93 L662.51 71.66 L682.22 70.36 L701.93 67.44 L721.63 65.17 L741.34 67.44 L761.05 65.82 L780.76 59.66 L800.46 63.55 L820.17 65.82 L839.88 66.47 L859.59 68.42 L879.29 65.17" stroke="#8a5547" stroke-width="2.2" fill="none" stroke-dasharray="7.8,3.4" stroke-linejoin="round"/>
<path d="M88.30 263.21l5.4 5.4m0 -5.4l-5.4 5.4M108.01 252.83l5.4 5.4m0 -5.4l-5.4 5.4M127.71 239.21l5.4 5.4m0 -5.4l-5.4 5.4M147.42 238.24l5.4 5.4m0 -5.4l-5.4 5.4M167.13 223.64l5.4 5.4m0 -5.4l-5.4 5.4M186.84 216.83l5.4 5.4m0 -5.4l-5.4 5.4M206.54 204.19l5.4 5.4m0 -5.4l-5.4 5.4M226.25 197.70l5.4 5.4m0 -5.4l-5.4 5.4M245.96 191.21l5.4 5.4m0 -5.4l-5.4 5.4M265.67 169.49l5.4 5.4m0 -5.4l-5.4 5.4M285.37 161.38l5.4 5.4m0 -5.4l-5.4 5.4M305.08 157.81l5.4 5.4m0 -5.4l-5.4 5.4M324.79 149.71l5.4 5.4m0 -5.4l-5.4 5.4M344.50 133.49l5.4 5.4m0 -5.4l-5.4 5.4M364.20 128.95l5.4 5.4m0 -5.4l-5.4 5.4M383.91 125.38l5.4 5.4m0 -5.4l-5.4 5.4M403.62 117.28l5.4 5.4m0 -5.4l-5.4 5.4M423.32 108.52l5.4 5.4m0 -5.4l-5.4 5.4M443.03 99.77l5.4 5.4m0 -5.4l-5.4 5.4M462.74 105.28l5.4 5.4m0 -5.4l-5.4 5.4M482.45 96.85l5.4 5.4m0 -5.4l-5.4 5.4M502.15 95.23l5.4 5.4m0 -5.4l-5.4 5.4M521.86 90.04l5.4 5.4m0 -5.4l-5.4 5.4M541.57 82.25l5.4 5.4m0 -5.4l-5.4 5.4M561.28 82.25l5.4 5.4m0 -5.4l-5.4 5.4M580.98 83.55l5.4 5.4m0 -5.4l-5.4 5.4M600.69 79.98l5.4 5.4m0 -5.4l-5.4 5.4M620.40 78.69l5.4 5.4m0 -5.4l-5.4 5.4M640.10 71.23l5.4 5.4m0 -5.4l-5.4 5.4M659.81 68.96l5.4 5.4m0 -5.4l-5.4 5.4M679.52 67.66l5.4 5.4m0 -5.4l-5.4 5.4M699.23 64.74l5.4 5.4m0 -5.4l-5.4 5.4M718.93 62.47l5.4 5.4m0 -5.4l-5.4 5.4M738.64 64.74l5.4 5.4m0 -5.4l-5.4 5.4M758.35 63.12l5.4 5.4m0 -5.4l-5.4 5.4M778.06 56.96l5.4 5.4m0 -5.4l-5.4 5.4M797.76 60.85l5.4 5.4m0 -5.4l-5.4 5.4M817.47 63.12l5.4 5.4m0 -5.4l-5.4 5.4M837.18 63.77l5.4 5.4m0 -5.4l-5.4 5.4M856.89 65.72l5.4 5.4m0 -5.4l-5.4 5.4M876.59 62.47l5.4 5.4m0 -5.4l-5.4 5.4" stroke="#8a5547" stroke-width="1.1" fill="none"/>
<path d="M91.00 265.91 L110.71 256.83 L130.41 253.58 L150.12 246.45 L169.83 243.21 L189.54 232.83 L209.24 213.37 L228.95 207.86 L248.66 208.18 L268.37 193.27 L288.07 175.75 L307.78 166.35 L327.49 160.51 L347.20 152.41 L366.90 136.19 L386.61 136.19 L406.32 124.84 L426.02 111.87 L445.73 104.09 L465.44 99.87 L485.15 93.39 L504.85 95.01 L524.56 81.06 L544.27 83.33 L563.98 79.44 L583.68 72.31 L603.39 70.36 L623.10 64.85 L642.80 62.58 L662.51 60.63 L682.22 59.34 L701.93 62.58 L721.63 57.71 L741.34 57.07 L761.05 55.12 L780.76 53.50 L800.46 50.90 L820.17 50.58 L839.88 50.90 L859.59 48.31 L879.29 45.39" stroke="#272a60" stroke-width="2.2" fill="none" stroke-dasharray="7.8,3.4" stroke-linejoin="round"/>
<path d="M88.30 263.21l5.4 5.4m0 -5.4l-5.4 5.4M108.01 254.13l5.4 5.4m0 -5.4l-5.4 5.4M127.71 250.88l5.4 5.4m0 -5.4l-5.4 5.4M147.42 243.75l5.4 5.4m0 -5.4l-5.4 5.4M167.13 240.51l5.4 5.4m0 -5.4l-5.4 5.4M186.84 230.13l5.4 5.4m0 -5.4l-5.4 5.4M206.54 210.67l5.4 5.4m0 -5.4l-5.4 5.4M226.25 205.16l5.4 5.4m0 -5.4l-5.4 5.4M245.96 205.48l5.4 5.4m0 -5.4l-5.4 5.4M265.67 190.57l5.4 5.4m0 -5.4l-5.4 5.4M285.37 173.05l5.4 5.4m0 -5.4l-5.4 5.4M305.08 163.65l5.4 5.4m0 -5.4l-5.4 5.4M324.79 157.81l5.4 5.4m0 -5.4l-5.4 5.4M344.50 149.71l5.4 5.4m0 -5.4l-5.4 5.4M364.20 133.49l5.4 5.4m0 -5.4l-5.4 5.4M383.91 133.49l5.4 5.4m0 -5.4l-5.4 5.4M403.62 122.14l5.4 5.4m0 -5.4l-5.4 5.4M423.32 109.17l5.4 5.4m0 -5.4l-5.4 5.4M443.03 101.39l5.4 5.4m0 -5.4l-5.4 5.4M462.74 97.17l5.4 5.4m0 -5.4l-5.4 5.4M482.45 90.69l5.4 5.4m0 -5.4l-5.4 5.4M502.15 92.31l5.4 5.4m0 -5.4l-5.4 5.4M521.86 78.36l5.4 5.4m0 -5.4l-5.4 5.4M541.57 80.63l5.4 5.4m0 -5.4l-5.4 5.4M561.28 76.74l5.4 5.4m0 -5.4l-5.4 5.4M580.98 69.61l5.4 5.4m0 -5.4l-5.4 5.4M600.69 67.66l5.4 5.4m0 -5.4l-5.4 5.4M620.40 62.15l5.4 5.4m0 -5.4l-5.4 5.4M640.10 59.88l5.4 5.4m0 -5.4l-5.4 5.4M659.81 57.93l5.4 5.4m0 -5.4l-5.4 5.4M679.52 56.64l5.4 5.4m0 -5.4l-5.4 5.4M699.23 59.88l5.4 5.4m0 -5.4l-5.4 5.4M718.93 55.01l5.4 5.4m0 -5.4l-5.4 5.4M738.64 54.37l5.4 5.4m0 -5.4l-5.4 5.4M758.35 52.42l5.4 5.4m0 -5.4l-5.4 5.4M778.06 50.80l5.4 5.4m0 -5.4l-5.4 5.4M797.76 48.20l5.4 5.4m0 -5.4l-5.4 5.4M817.47 47.88l5.4 5.4m0 -5.4l-5.4 5.4M837.18 48.20l5.4 5.4m0 -5.4l-5.4 5.4M856.89 45.61l5.4 5.4m0 -5.4l-5.4 5.4M876.59 42.69l5.4 5.4m0 -5.4l-5.4 5.4" stroke="#272a60" stroke-width="1.1" fill="none"/>
</g>
<path d="M87.50 268.50H91.00M87.50 236.07H91.00M87.50 203.64H91.00M87.50 171.21H91.00M87.50 138.79H91.00M87.50 106.36H91.00M87.50 73.93H91.00M87.50 41.50H91.00M91.00 268.50V272.00M130.41 268.50V272.00M169.83 268.50V272.00M209.24 268.50V272.00M248.66 268.50V272.00M288.07 268.50V272.00M327.49 268.50V272.00M366.90 268.50V272.00M406.32 268.50V272.00M445.73 268.50V272.00M485.15 268.50V272.00M524.56 268.50V272.00M563.98 268.50V272.00M603.39 268.50V272.00M642.80 268.50V272.00M682.22 268.50V272.00M721.63 268.50V272.00M761.05 268.50V272.00M800.46 268.50V272.00M839.88 268.50V272.00M879.29 268.50V272.00" stroke="#333" stroke-width="1.1" fill="none"/>
<text x="86.8" y="278.90" text-anchor="end" font-family='"Liberation Serif", serif' font-size="30.8">0.1</text>
<text x="86.8" y="246.47" text-anchor="end" font-family='"Liberation Serif", serif' font-size="30.8">0.2</text>
<text x="86.8" y="214.04" text-anchor="end" font-family='"Liberation Serif", serif' font-size="30.8">0.3</text>
<text x="86.8" y="181.61" text-anchor="end" font-family='"Liberation Serif", serif' font-size="30.8">0.4</text>
<text x="86.8" y="149.19" text-anchor="end" font-family='"Liberation Serif", serif' font-size="30.8">0.5</text>
<text x="86.8" y="116.76" text-anchor="end" font-family='"Liberation Serif", serif' font-size="30.8">0.6</text>
<text x="86.8" y="84.33" text-anchor="end" font-family='"Liberation Serif", serif' font-size="30.8">0.7</text>
<text x="86.8" y="51.90" text-anchor="end" font-family='"Liberation Serif", serif' font-size="30.8">0.8</text>
<text x="495.00" y="27.00" text-anchor="middle" font-family='"Liberation Serif", serif' font-size="36.56">Model Performance with No Event Interference</text>
<rect x="91.00" y="314.00" width="808.00" height="227.00" fill="#eef6fe"/>
<rect x="503.95" y="314.00" width="395.05" height="227.00" fill="#e0f2fe"/>
<path d="M91.00 541.00H899.00M91.00 508.57H899.00M91.00 476.14H899.00M91.00 443.71H899.00M91.00 411.29H899.00M91.00 378.86H899.00M91.00 346.43H899.00M91.00 314.00V541.00M130.41 314.00V541.00M169.83 314.00V541.00M209.24 314.00V541.00M248.66 314.00V541.00M288.07 314.00V541.00M327.49 314.00V541.00M366.90 314.00V541.00M406.32 314.00V541.00M445.73 314.00V541.00M485.15 314.00V541.00M524.56 314.00V541.00M563.98 314.00V541.00M603.39 314.00V541.00M642.80 314.00V541.00M682.22 314.00V541.00M721.63 314.00V541.00M761.05 314.00V541.00M800.46 314.00V541.00M839.88 314.00V541.00M879.29 314.00V541.00" stroke="#cfd3da" stroke-width="1" fill="none"/>
<rect x="91.00" y="314.00" width="808.00" height="227.00" fill="none" stroke="#222" stroke-width="0.9"/>
<g clip-path="url(#c1)">
<path d="M91.00 525.76 L110.71 505.33 L130.41 502.09 L150.12 500.46 L169.83 497.22 L189.54 492.03 L209.24 488.47 L228.95 487.49 L248.66 485.22 L268.37 483.93 L288.07 482.63 L307.78 477.12 L327.49 481.01 L347.20 473.87 L366.90 475.17 L386.61 465.12 L406.32 464.47 L426.02 451.82 L445.73 446.31 L465.44 440.47 L485.15 427.50 L504.85 476.14 L524.56 472.25 L544.27 464.47 L563.98 450.20 L583.68 449.23 L603.39 443.07 L623.10 430.74 L642.80 420.04 L662.51 415.83 L682.22 413.88 L701.93 409.02 L721.63 401.56 L741.34 401.23 L761.05 402.21 L780.76 394.10 L800.46 386.96 L820.17 385.67 L839.88 386.32 L859.59 384.69 L879.29 387.94" stroke="#3a5a36" stroke-width="2.2" fill="none" stroke-linejoin="round"/>
<circle cx="91.00" cy="525.76" r="2.4" fill="#3a5a36"/>
<circle cx="110.71" cy="505.33" r="2.4" fill="#3a5a36"/>
<circle cx="130.41" cy="502.09" r="2.4" fill="#3a5a36"/>
<circle cx="150.12" cy="500.46" r="2.4" fill="#3a5a36"/>
<circle cx="169.83" cy="497.22" r="2.4" fill="#3a5a36"/>
<circle cx="189.54" cy="492.03" r="2.4" fill="#3a5a36"/>
<circle cx="209.24" cy="488.47" r="2.4" fill="#3a5a36"/>
<circle cx="228.95" cy="487.49" r="2.4" fill="#3a5a36"/>
<circle cx="248.66" cy="485.22" r="2.4" fill="#3a5a36"/>
<circle cx="268.37" cy="483.93" r="2.4" fill="#3a5a36"/>
<circle cx="288.07" cy="482.63" r="2.4" fill="#3a5a36"/>
<circle cx="307.78" cy="477.12" r="2.4" fill="#3a5a36"/>
<circle cx="327.49" cy="481.01" r="2.4" fill="#3a5a36"/>
<circle cx="347.20" cy="473.87" r="2.4" fill="#3a5a36"/>
<circle cx="366.90" cy="475.17" r="2.4" fill="#3a5a36"/>
<circle cx="386.61" cy="465.12" r="2.4" fill="#3a5a36"/>
<circle cx="406.32" cy="464.47" r="2.4" fill="#3a5a36"/>
<circle cx="426.02" cy="451.82" r="2.4" fill="#3a5a36"/>
<circle cx="445.73" cy="446.31" r="2.4" fill="#3a5a36"/>
<circle cx="465.44" cy="440.47" r="2.4" fill="#3a5a36"/>
<circle cx="485.15" cy="427.50" r="2.4" fill="#3a5a36"/>
<circle cx="504.85" cy="476.14" r="2.4" fill="#3a5a36"/>
<circle cx="524.56" cy="472.25" r="2.4" fill="#3a5a36"/>
<circle cx="544.27" cy="464.47" r="2.4" fill="#3a5a36"/>
<circle cx="563.98" cy="450.20" r="2.4" fill="#3a5a36"/>
<circle cx="583.68" cy="449.23" r="2.4" fill="#3a5a36"/>
<circle cx="603.39" cy="443.07" r="2.4" fill="#3a5a36"/>
<circle cx="623.10" cy="430.74" r="2.4" fill="#3a5a36"/>
<circle cx="642.80" cy="420.04" r="2.4" fill="#3a5a36"/>
<circle cx="662.51" cy="415.83" r="2.4" fill="#3a5a36"/>
<circle cx="682.22" cy="413.88" r="2.4" fill="#3a5a36"/>
<circle cx="701.93" cy="409.02" r="2.4" fill="#3a5a36"/>
<circle cx="721.63" cy="401.56" r="2.4" fill="#3a5a36"/>
<circle cx="741.34" cy="401.23" r="2.4" fill="#3a5a36"/>
<circle cx="761.05" cy="402.21" r="2.4" fill="#3a5a36"/>
<circle cx="780.76" cy="394.10" r="2.4" fill="#3a5a36"/>
<circle cx="800.46" cy="386.96" r="2.4" fill="#3a5a36"/>
<circle cx="820.17" cy="385.67" r="2.4" fill="#3a5a36"/>
<circle cx="839.88" cy="386.32" r="2.4" fill="#3a5a36"/>
<circle cx="859.59" cy="384.69" r="2.4" fill="#3a5a36"/>
<circle cx="879.29" cy="387.94" r="2.4" fill="#3a5a36"/>
<path d="M91.00 525.76 L110.71 509.54 L130.41 506.63 L150.12 504.36 L169.83 503.06 L189.54 501.44 L209.24 499.49 L228.95 497.87 L248.66 495.60 L268.37 497.55 L288.07 491.38 L307.78 494.63 L327.49 494.63 L347.20 484.25 L366.90 481.01 L386.61 480.36 L406.32 476.47 L426.02 471.60 L445.73 468.36 L465.44 463.17 L485.15 459.93 L504.85 481.98 L524.56 480.68 L544.27 476.47 L563.98 461.23 L583.68 467.71 L603.39 461.87 L623.10 454.42 L642.80 448.58 L662.51 451.82 L682.22 447.61 L701.93 440.47 L721.63 438.20 L741.34 432.69 L761.05 436.58 L780.76 433.99 L800.46 432.04 L820.17 431.07 L839.88 432.04 L859.59 423.61 L879.29 428.80" stroke="#8b1e3e" stroke-width="2.2" fill="none" stroke-linejoin="round"/>
<circle cx="91.00" cy="525.76" r="2.4" fill="#8b1e3e"/>
<circle cx="110.71" cy="509.54" r="2.4" fill="#8b1e3e"/>
<circle cx="130.41" cy="506.63" r="2.4" fill="#8b1e3e"/>
<circle cx="150.12" cy="504.36" r="2.4" fill="#8b1e3e"/>
<circle cx="169.83" cy="503.06" r="2.4" fill="#8b1e3e"/>
<circle cx="189.54" cy="501.44" r="2.4" fill="#8b1e3e"/>
<circle cx="209.24" cy="499.49" r="2.4" fill="#8b1e3e"/>
<circle cx="228.95" cy="497.87" r="2.4" fill="#8b1e3e"/>
<circle cx="248.66" cy="495.60" r="2.4" fill="#8b1e3e"/>
<circle cx="268.37" cy="497.55" r="2.4" fill="#8b1e3e"/>
<circle cx="288.07" cy="491.38" r="2.4" fill="#8b1e3e"/>
<circle cx="307.78" cy="494.63" r="2.4" fill="#8b1e3e"/>
<circle cx="327.49" cy="494.63" r="2.4" fill="#8b1e3e"/>
<circle cx="347.20" cy="484.25" r="2.4" fill="#8b1e3e"/>
<circle cx="366.90" cy="481.01" r="2.4" fill="#8b1e3e"/>
<circle cx="386.61" cy="480.36" r="2.4" fill="#8b1e3e"/>
<circle cx="406.32" cy="476.47" r="2.4" fill="#8b1e3e"/>
<circle cx="426.02" cy="471.60" r="2.4" fill="#8b1e3e"/>
<circle cx="445.73" cy="468.36" r="2.4" fill="#8b1e3e"/>
<circle cx="465.44" cy="463.17" r="2.4" fill="#8b1e3e"/>
<circle cx="485.15" cy="459.93" r="2.4" fill="#8b1e3e"/>
<circle cx="504.85" cy="481.98" r="2.4" fill="#8b1e3e"/>
<circle cx="524.56" cy="480.68" r="2.4" fill="#8b1e3e"/>
<circle cx="544.27" cy="476.47" r="2.4" fill="#8b1e3e"/>
<circle cx="563.98" cy="461.23" r="2.4" fill="#8b1e3e"/>
<circle cx="583.68" cy="467.71" r="2.4" fill="#8b1e3e"/>
<circle cx="603.39" cy="461.87" r="2.4" fill="#8b1e3e"/>
<circle cx="623.10" cy="454.42" r="2.4" fill="#8b1e3e"/>
<circle cx="642.80" cy="448.58" r="2.4" fill="#8b1e3e"/>
<circle cx="662.51" cy="451.82" r="2.4" fill="#8b1e3e"/>
<circle cx="682.22" cy="447.61" r="2.4" fill="#8b1e3e"/>
<circle cx="701.93" cy="440.47" r="2.4" fill="#8b1e3e"/>
<circle cx="721.63" cy="438.20" r="2.4" fill="#8b1e3e"/>
<circle cx="741.34" cy="432.69" r="2.4" fill="#8b1e3e"/>
<circle cx="761.05" cy="436.58" r="2.4" fill="#8b1e3e"/>
<circle cx="780.76" cy="433.99" r="2.4" fill="#8b1e3e"/>
<circle cx="800.46" cy="432.04" r="2.4" fill="#8b1e3e"/>
<circle cx="820.17" cy="431.07" r="2.4" fill="#8b1e3e"/>
<circle cx="839.88" cy="432.04" r="2.4" fill="#8b1e3e"/>
<circle cx="859.59" cy="423.61" r="2.4" fill="#8b1e3e"/>
<circle cx="879.29" cy="428.80" r="2.4" fill="#8b1e3e"/>
<path d="M91.00 525.76 L110.71 505.33 L130.41 504.68 L150.12 502.73 L169.83 500.14 L189.54 484.57 L209.24 481.98 L228.95 476.14 L248.66 468.68 L268.37 447.93 L288.07 453.12 L307.78 434.96 L327.49 433.99 L347.20 433.34 L366.90 424.58 L386.61 409.99 L406.32 409.34 L426.02 407.72 L445.73 405.12 L465.44 411.29 L485.15 408.69 L504.85 458.96 L524.56 435.28 L544.27 414.53 L563.98 407.39 L583.68 401.56 L603.39 395.40 L623.10 391.18 L642.80 384.69 L662.51 377.56 L682.22 383.40 L701.93 380.80 L721.63 381.78 L741.34 374.64 L761.05 374.64 L780.76 368.16 L800.46 370.75 L820.17 369.13 L839.88 369.78 L859.59 369.78 L879.29 365.89" stroke="#fbd98a" stroke-width="2.2" fill="none" stroke-linejoin="round"/>
<circle cx="91.00" cy="525.76" r="2.4" fill="#fbd98a"/>
<circle cx="110.71" cy="505.33" r="2.4" fill="#fbd98a"/>
<circle cx="130.41" cy="504.68" r="2.4" fill="#fbd98a"/>
<circle cx="150.12" cy="502.73" r="2.4" fill="#fbd98a"/>
<circle cx="169.83" cy="500.14" r="2.4" fill="#fbd98a"/>
<circle cx="189.54" cy="484.57" r="2.4" fill="#fbd98a"/>
<circle cx="209.24" cy="481.98" r="2.4" fill="#fbd98a"/>
<circle cx="228.95" cy="476.14" r="2.4" fill="#fbd98a"/>
<circle cx="248.66" cy="468.68" r="2.4" fill="#fbd98a"/>
<circle cx="268.37" cy="447.93" r="2.4" fill="#fbd98a"/>
<circle cx="288.07" cy="453.12" r="2.4" fill="#fbd98a"/>
<circle cx="307.78" cy="434.96" r="2.4" fill="#fbd98a"/>
<circle cx="327.49" cy="433.99" r="2.4" fill="#fbd98a"/>
<circle cx="347.20" cy="433.34" r="2.4" fill="#fbd98a"/>
<circle cx="366.90" cy="424.58" r="2.4" fill="#fbd98a"/>
<circle cx="386.61" cy="409.99" r="2.4" fill="#fbd98a"/>
<circle cx="406.32" cy="409.34" r="2.4" fill="#fbd98a"/>
<circle cx="426.02" cy="407.72" r="2.4" fill="#fbd98a"/>
<circle cx="445.73" cy="405.12" r="2.4" fill="#fbd98a"/>
<circle cx="465.44" cy="411.29" r="2.4" fill="#fbd98a"/>
<circle cx="485.15" cy="408.69" r="2.4" fill="#fbd98a"/>
<circle cx="504.85" cy="458.96" r="2.4" fill="#fbd98a"/>
<circle cx="524.56" cy="435.28" r="2.4" fill="#fbd98a"/>
<circle cx="544.27" cy="414.53" r="2.4" fill="#fbd98a"/>
<circle cx="563.98" cy="407.39" r="2.4" fill="#fbd98a"/>
<circle cx="583.68" cy="401.56" r="2.4" fill="#fbd98a"/>
<circle cx="603.39" cy="395.40" r="2.4" fill="#fbd98a"/>
<circle cx="623.10" cy="391.18" r="2.4" fill="#fbd98a"/>
<circle cx="642.80" cy="384.69" r="2.4" fill="#fbd98a"/>
<circle cx="662.51" cy="377.56" r="2.4" fill="#fbd98a"/>
<circle cx="682.22" cy="383.40" r="2.4" fill="#fbd98a"/>
<circle cx="701.93" cy="380.80" r="2.4" fill="#fbd98a"/>
<circle cx="721.63" cy="381.78" r="2.4" fill="#fbd98a"/>
<circle cx="741.34" cy="374.64" r="2.4" fill="#fbd98a"/>
<circle cx="761.05" cy="374.64" r="2.4" fill="#fbd98a"/>
<circle cx="780.76" cy="368.16" r="2.4" fill="#fbd98a"/>
<circle cx="800.46" cy="370.75" r="2.4" fill="#fbd98a"/>
<circle cx="820.17" cy="369.13" r="2.4" fill="#fbd98a"/>
<circle cx="839.88" cy="369.78" r="2.4" fill="#fbd98a"/>
<circle cx="859.59" cy="369.78" r="2.4" fill="#fbd98a"/>
<circle cx="879.29" cy="365.89" r="2.4" fill="#fbd98a"/>
<path d="M91.00 525.76 L110.71 506.95 L130.41 507.60 L150.12 505.33 L169.83 502.41 L189.54 492.36 L209.24 495.60 L228.95 493.98 L248.66 488.47 L268.37 484.25 L288.07 490.09 L307.78 473.87 L327.49 472.58 L347.20 469.98 L366.90 471.28 L386.61 468.04 L406.32 446.31 L426.02 444.36 L445.73 439.17 L465.44 437.88 L485.15 432.04 L504.85 478.09 L524.56 455.06 L544.27 437.23 L563.98 416.47 L583.68 413.88 L603.39 413.23 L623.10 408.69 L642.80 405.77 L662.51 406.75 L682.22 405.12 L701.93 400.58 L721.63 404.80 L741.34 392.80 L761.05 392.80 L780.76 389.88 L800.46 385.67 L820.17 386.96 L839.88 385.67 L859.59 384.05 L879.29 385.34" stroke="#e26841" stroke-width="2.2" fill="none" stroke-linejoin="round"/>
<circle cx="91.00" cy="525.76" r="2.4" fill="#e26841"/>
<circle cx="110.71" cy="506.95" r="2.4" fill="#e26841"/>
<circle cx="130.41" cy="507.60" r="2.4" fill="#e26841"/>
<circle cx="150.12" cy="505.33" r="2.4" fill="#e26841"/>
<circle cx="169.83" cy="502.41" r="2.4" fill="#e26841"/>
<circle cx="189.54" cy="492.36" r="2.4" fill="#e26841"/>
<circle cx="209.24" cy="495.60" r="2.4" fill="#e26841"/>
<circle cx="228.95" cy="493.98" r="2.4" fill="#e26841"/>
<circle cx="248.66" cy="488.47" r="2.4" fill="#e26841"/>
<circle cx="268.37" cy="484.25" r="2.4" fill="#e26841"/>
<circle cx="288.07" cy="490.09" r="2.4" fill="#e26841"/>
<circle cx="307.78" cy="473.87" r="2.4" fill="#e26841"/>
<circle cx="327.49" cy="472.58" r="2.4" fill="#e26841"/>
<circle cx="347.20" cy="469.98" r="2.4" fill="#e26841"/>
<circle cx="366.90" cy="471.28" r="2.4" fill="#e26841"/>
<circle cx="386.61" cy="468.04" r="2.4" fill="#e26841"/>
<circle cx="406.32" cy="446.31" r="2.4" fill="#e26841"/>
<circle cx="426.02" cy="444.36" r="2.4" fill="#e26841"/>
<circle cx="445.73" cy="439.17" r="2.4" fill="#e26841"/>
<circle cx="465.44" cy="437.88" r="2.4" fill="#e26841"/>
<circle cx="485.15" cy="432.04" r="2.4" fill="#e26841"/>
<circle cx="504.85" cy="478.09" r="2.4" fill="#e26841"/>
<circle cx="524.56" cy="455.06" r="2.4" fill="#e26841"/>
<circle cx="544.27" cy="437.23" r="2.4" fill="#e26841"/>
<circle cx="563.98" cy="416.47" r="2.4" fill="#e26841"/>
<circle cx="583.68" cy="413.88" r="2.4" fill="#e26841"/>
<circle cx="603.39" cy="413.23" r="2.4" fill="#e26841"/>
<circle cx="623.10" cy="408.69" r="2.4" fill="#e26841"/>
<circle cx="642.80" cy="405.77" r="2.4" fill="#e26841"/>
<circle cx="662.51" cy="406.75" r="2.4" fill="#e26841"/>
<circle cx="682.22" cy="405.12" r="2.4" fill="#e26841"/>
<circle cx="701.93" cy="400.58" r="2.4" fill="#e26841"/>
<circle cx="721.63" cy="404.80" r="2.4" fill="#e26841"/>
<circle cx="741.34" cy="392.80" r="2.4" fill="#e26841"/>
<circle cx="761.05" cy="392.80" r="2.4" fill="#e26841"/>
<circle cx="780.76" cy="389.88" r="2.4" fill="#e26841"/>
<circle cx="800.46" cy="385.67" r="2.4" fill="#e26841"/>
<circle cx="820.17" cy="386.96" r="2.4" fill="#e26841"/>
<circle cx="839.88" cy="385.67" r="2.4" fill="#e26841"/>
<circle cx="859.59" cy="384.05" r="2.4" fill="#e26841"/>
<circle cx="879.29" cy="385.34" r="2.4" fill="#e26841"/>
<path d="M91.00 525.76 L110.71 501.44 L130.41 496.57 L150.12 495.60 L169.83 485.55 L189.54 479.06 L209.24 471.60 L228.95 465.77 L248.66 467.06 L268.37 450.20 L288.07 445.34 L307.78 443.07 L327.49 439.82 L347.20 435.93 L366.90 429.12 L386.61 427.82 L406.32 431.72 L426.02 420.69 L445.73 414.85 L465.44 411.29 L485.15 404.80 L504.85 466.74 L524.56 425.88 L544.27 416.47 L563.98 417.77 L583.68 393.77 L603.39 397.99 L623.10 389.23 L642.80 386.64 L662.51 381.78 L682.22 378.53 L701.93 383.40 L721.63 374.64 L741.34 374.64 L761.05 373.99 L780.76 378.86 L800.46 378.21 L820.17 379.18 L839.88 382.75 L859.59 373.99 L879.29 373.99" stroke="#8a5547" stroke-width="2.2" fill="none" stroke-linejoin="round"/>
<circle cx="91.00" cy="525.76" r="2.4" fill="#8a5547"/>
<circle cx="110.71" cy="501.44" r="2.4" fill="#8a5547"/>
<circle cx="130.41" cy="496.57" r="2.4" fill="#8a5547"/>
<circle cx="150.12" cy="495.60" r="2.4" fill="#8a5547"/>
<circle cx="169.83" cy="485.55" r="2.4" fill="#8a5547"/>
<circle cx="189.54" cy="479.06" r="2.4" fill="#8a5547"/>
<circle cx="209.24" cy="471.60" r="2.4" fill="#8a5547"/>
<circle cx="228.95" cy="465.77" r="2.4" fill="#8a5547"/>
<circle cx="248.66" cy="467.06" r="2.4" fill="#8a5547"/>
<circle cx="268.37" cy="450.20" r="2.4" fill="#8a5547"/>
<circle cx="288.07" cy="445.34" r="2.4" fill="#8a5547"/>
<circle cx="307.78" cy="443.07" r="2.4" fill="#8a5547"/>
<circle cx="327.49" cy="439.82" r="2.4" fill="#8a5547"/>
<circle cx="347.20" cy="435.93" r="2.4" fill="#8a5547"/>
<circle cx="366.90" cy="429.12" r="2.4" fill="#8a5547"/>
<circle cx="386.61" cy="427.82" r="2.4" fill="#8a5547"/>
<circle cx="406.32" cy="431.72" r="2.4" fill="#8a5547"/>
<circle cx="426.02" cy="420.69" r="2.4" fill="#8a5547"/>
<circle cx="445.73" cy="414.85" r="2.4" fill="#8a5547"/>
<circle cx="465.44" cy="411.29" r="2.4" fill="#8a5547"/>
<circle cx="485.15" cy="404.80" r="2.4" fill="#8a5547"/>
<circle cx="504.85" cy="466.74" r="2.4" fill="#8a5547"/>
<circle cx="524.56" cy="425.88" r="2.4" fill="#8a5547"/>
<circle cx="544.27" cy="416.47" r="2.4" fill="#8a5547"/>
<circle cx="563.98" cy="417.77" r="2.4" fill="#8a5547"/>
<circle cx="583.68" cy="393.77" r="2.4" fill="#8a5547"/>
<circle cx="603.39" cy="397.99" r="2.4" fill="#8a5547"/>
<circle cx="623.10" cy="389.23" r="2.4" fill="#8a5547"/>
<circle cx="642.80" cy="386.64" r="2.4" fill="#8a5547"/>
<circle cx="662.51" cy="381.78" r="2.4" fill="#8a5547"/>
<circle cx="682.22" cy="378.53" r="2.4" fill="#8a5547"/>
<circle cx="701.93" cy="383.40" r="2.4" fill="#8a5547"/>
<circle cx="721.63" cy="374.64" r="2.4" fill="#8a5547"/>
<circle cx="741.34" cy="374.64" r="2.4" fill="#8a5547"/>
<circle cx="761.05" cy="373.99" r="2.4" fill="#8a5547"/>
<circle cx="780.76" cy="378.86" r="2.4" fill="#8a5547"/>
<circle cx="800.46" cy="378.21" r="2.4" fill="#8a5547"/>
<circle cx="820.17" cy="379.18" r="2.4" fill="#8a5547"/>
<circle cx="839.88" cy="382.75" r="2.4" fill="#8a5547"/>
<circle cx="859.59" cy="373.99" r="2.4" fill="#8a5547"/>
<circle cx="879.29" cy="373.99" r="2.4" fill="#8a5547"/>
<path d="M91.00 525.76 L110.71 505.33 L130.41 502.73 L150.12 502.41 L169.83 500.46 L189.54 497.55 L209.24 498.19 L228.95 495.60 L248.66 492.36 L268.37 481.66 L288.07 480.36 L307.78 477.76 L327.49 467.06 L347.20 465.12 L366.90 457.66 L386.61 443.71 L406.32 445.66 L426.02 431.72 L445.73 429.77 L465.44 420.69 L485.15 420.69 L504.85 473.22 L524.56 465.12 L544.27 454.74 L563.98 427.82 L583.68 424.58 L603.39 413.23 L623.10 399.61 L642.80 395.40 L662.51 401.23 L682.22 392.15 L701.93 389.23 L721.63 386.32 L741.34 389.88 L761.05 390.53 L780.76 392.15 L800.46 384.05 L820.17 381.13 L839.88 384.69 L859.59 381.78 L879.29 381.13" stroke="#272a60" stroke-width="2.2" fill="none" stroke-linejoin="round"/>
<circle cx="91.00" cy="525.76" r="2.4" fill="#272a60"/>
<circle cx="110.71" cy="505.33" r="2.4" fill="#272a60"/>
<circle cx="130.41" cy="502.73" r="2.4" fill="#272a60"/>
<circle cx="150.12" cy="502.41" r="2.4" fill="#272a60"/>
<circle cx="169.83" cy="500.46" r="2.4" fill="#272a60"/>
<circle cx="189.54" cy="497.55" r="2.4" fill="#272a60"/>
<circle cx="209.24" cy="498.19" r="2.4" fill="#272a60"/>
<circle cx="228.95" cy="495.60" r="2.4" fill="#272a60"/>
<circle cx="248.66" cy="492.36" r="2.4" fill="#272a60"/>
<circle cx="268.37" cy="481.66" r="2.4" fill="#272a60"/>
<circle cx="288.07" cy="480.36" r="2.4" fill="#272a60"/>
<circle cx="307.78" cy="477.76" r="2.4" fill="#272a60"/>
<circle cx="327.49" cy="467.06" r="2.4" fill="#272a60"/>
<circle cx="347.20" cy="465.12" r="2.4" fill="#272a60"/>
<circle cx="366.90" cy="457.66" r="2.4" fill="#272a60"/>
<circle cx="386.61" cy="443.71" r="2.4" fill="#272a60"/>
<circle cx="406.32" cy="445.66" r="2.4" fill="#272a60"/>
<circle cx="426.02" cy="431.72" r="2.4" fill="#272a60"/>
<circle cx="445.73" cy="429.77" r="2.4" fill="#272a60"/>
<circle cx="465.44" cy="420.69" r="2.4" fill="#272a60"/>
<circle cx="485.15" cy="420.69" r="2.4" fill="#272a60"/>
<circle cx="504.85" cy="473.22" r="2.4" fill="#272a60"/>
<circle cx="524.56" cy="465.12" r="2.4" fill="#272a60"/>
<circle cx="544.27" cy="454.74" r="2.4" fill="#272a60"/>
<circle cx="563.98" cy="427.82" r="2.4" fill="#272a60"/>
<circle cx="583.68" cy="424.58" r="2.4" fill="#272a60"/>
<circle cx="603.39" cy="413.23" r="2.4" fill="#272a60"/>
<circle cx="623.10" cy="399.61" r="2.4" fill="#272a60"/>
<circle cx="642.80" cy="395.40" r="2.4" fill="#272a60"/>
<circle cx="662.51" cy="401.23" r="2.4" fill="#272a60"/>
<circle cx="682.22" cy="392.15" r="2.4" fill="#272a60"/>
<circle cx="701.93" cy="389.23" r="2.4" fill="#272a60"/>
<circle cx="721.63" cy="386.32" r="2.4" fill="#272a60"/>
<circle cx="741.34" cy="389.88" r="2.4" fill="#272a60"/>
<circle cx="761.05" cy="390.53" r="2.4" fill="#272a60"/>
<circle cx="780.76" cy="392.15" r="2.4" fill="#272a60"/>
<circle cx="800.46" cy="384.05" r="2.4" fill="#272a60"/>
<circle cx="820.17" cy="381.13" r="2.4" fill="#272a60"/>
<circle cx="839.88" cy="384.69" r="2.4" fill="#272a60"/>
<circle cx="859.59" cy="381.78" r="2.4" fill="#272a60"/>
<circle cx="879.29" cy="381.13" r="2.4" fill="#272a60"/>
<path d="M91.00 532.57 L110.71 533.22 L130.41 529.33 L150.12 523.49 L169.83 517.65 L189.54 509.22 L209.24 508.90 L228.95 503.71 L248.66 493.98 L268.37 485.87 L288.07 482.95 L307.78 476.47 L327.49 460.58 L347.20 447.93 L366.90 443.07 L386.61 429.12 L406.32 431.72 L426.02 414.85 L445.73 411.29 L465.44 395.40 L485.15 389.88 L504.85 507.92 L524.56 483.93 L544.27 462.85 L563.98 441.77 L583.68 409.34 L603.39 404.48 L623.10 395.40 L642.80 385.34 L662.51 381.78 L682.22 376.59 L701.93 373.99 L721.63 368.16 L741.34 359.40 L761.05 362.32 L780.76 355.83 L800.46 354.21 L820.17 352.27 L839.88 349.35 L859.59 350.00 L879.29 348.37" stroke="#3a5a36" stroke-width="2.2" fill="none" stroke-dasharray="7.8,3.4" stroke-linejoin="round"/>
<path d="M88.30 529.87l5.4 5.4m0 -5.4l-5.4 5.4M108.01 530.52l5.4 5.4m0 -5.4l-5.4 5.4M127.71 526.63l5.4 5.4m0 -5.4l-5.4 5.4M147.42 520.79l5.4 5.4m0 -5.4l-5.4 5.4M167.13 514.95l5.4 5.4m0 -5.4l-5.4 5.4M186.84 506.52l5.4 5.4m0 -5.4l-5.4 5.4M206.54 506.20l5.4 5.4m0 -5.4l-5.4 5.4M226.25 501.01l5.4 5.4m0 -5.4l-5.4 5.4M245.96 491.28l5.4 5.4m0 -5.4l-5.4 5.4M265.67 483.17l5.4 5.4m0 -5.4l-5.4 5.4M285.37 480.25l5.4 5.4m0 -5.4l-5.4 5.4M305.08 473.77l5.4 5.4m0 -5.4l-5.4 5.4M324.79 457.88l5.4 5.4m0 -5.4l-5.4 5.4M344.50 445.23l5.4 5.4m0 -5.4l-5.4 5.4M364.20 440.37l5.4 5.4m0 -5.4l-5.4 5.4M383.91 426.42l5.4 5.4m0 -5.4l-5.4 5.4M403.62 429.02l5.4 5.4m0 -5.4l-5.4 5.4M423.32 412.15l5.4 5.4m0 -5.4l-5.4 5.4M443.03 408.59l5.4 5.4m0 -5.4l-5.4 5.4M462.74 392.70l5.4 5.4m0 -5.4l-5.4 5.4M482.45 387.18l5.4 5.4m0 -5.4l-5.4 5.4M502.15 505.22l5.4 5.4m0 -5.4l-5.4 5.4M521.86 481.23l5.4 5.4m0 -5.4l-5.4 5.4M541.57 460.15l5.4 5.4m0 -5.4l-5.4 5.4M561.28 439.07l5.4 5.4m0 -5.4l-5.4 5.4M580.98 406.64l5.4 5.4m0 -5.4l-5.4 5.4M600.69 401.78l5.4 5.4m0 -5.4l-5.4 5.4M620.40 392.70l5.4 5.4m0 -5.4l-5.4 5.4M640.10 382.64l5.4 5.4m0 -5.4l-5.4 5.4M659.81 379.08l5.4 5.4m0 -5.4l-5.4 5.4M679.52 373.89l5.4 5.4m0 -5.4l-5.4 5.4M699.23 371.29l5.4 5.4m0 -5.4l-5.4 5.4M718.93 365.46l5.4 5.4m0 -5.4l-5.4 5.4M738.64 356.70l5.4 5.4m0 -5.4l-5.4 5.4M758.35 359.62l5.4 5.4m0 -5.4l-5.4 5.4M778.06 353.13l5.4 5.4m0 -5.4l-5.4 5.4M797.76 351.51l5.4 5.4m0 -5.4l-5.4 5.4M817.47 349.57l5.4 5.4m0 -5.4l-5.4 5.4M837.18 346.65l5.4 5.4m0 -5.4l-5.4 5.4M856.89 347.30l5.4 5.4m0 -5.4l-5.4 5.4M876.59 345.67l5.4 5.4m0 -5.4l-5.4 5.4" stroke="#3a5a36" stroke-width="1.1" fill="none"/>
<path d="M91.00 532.57 L110.71 533.22 L130.41 527.38 L150.12 522.19 L169.83 520.57 L189.54 511.17 L209.24 508.90 L228.95 482.63 L248.66 489.11 L268.37 476.14 L288.07 466.41 L307.78 456.36 L327.49 446.31 L347.20 444.36 L366.90 423.28 L386.61 426.20 L406.32 415.83 L426.02 413.23 L445.73 407.39 L465.44 400.58 L485.15 397.02 L504.85 512.79 L524.56 490.41 L544.27 467.39 L563.98 449.88 L583.68 430.74 L603.39 409.99 L623.10 396.04 L642.80 393.77 L662.51 392.48 L682.22 387.29 L701.93 378.86 L721.63 381.78 L741.34 386.32 L761.05 374.64 L780.76 373.99 L800.46 369.13 L820.17 366.53 L839.88 366.86 L859.59 359.72 L879.29 361.35" stroke="#8b1e3e" stroke-width="2.2" fill="none" stroke-dasharray="7.8,3.4" stroke-linejoin="round"/>
<path d="M88.30 529.87l5.4 5.4m0 -5.4l-5.4 5.4M108.01 530.52l5.4 5.4m0 -5.4l-5.4 5.4M127.71 524.68l5.4 5.4m0 -5.4l-5.4 5.4M147.42 519.49l5.4 5.4m0 -5.4l-5.4 5.4M167.13 517.87l5.4 5.4m0 -5.4l-5.4 5.4M186.84 508.47l5.4 5.4m0 -5.4l-5.4 5.4M206.54 506.20l5.4 5.4m0 -5.4l-5.4 5.4M226.25 479.93l5.4 5.4m0 -5.4l-5.4 5.4M245.96 486.41l5.4 5.4m0 -5.4l-5.4 5.4M265.67 473.44l5.4 5.4m0 -5.4l-5.4 5.4M285.37 463.71l5.4 5.4m0 -5.4l-5.4 5.4M305.08 453.66l5.4 5.4m0 -5.4l-5.4 5.4M324.79 443.61l5.4 5.4m0 -5.4l-5.4 5.4M344.50 441.66l5.4 5.4m0 -5.4l-5.4 5.4M364.20 420.58l5.4 5.4m0 -5.4l-5.4 5.4M383.91 423.50l5.4 5.4m0 -5.4l-5.4 5.4M403.62 413.13l5.4 5.4m0 -5.4l-5.4 5.4M423.32 410.53l5.4 5.4m0 -5.4l-5.4 5.4M443.03 404.69l5.4 5.4m0 -5.4l-5.4 5.4M462.74 397.88l5.4 5.4m0 -5.4l-5.4 5.4M482.45 394.32l5.4 5.4m0 -5.4l-5.4 5.4M502.15 510.09l5.4 5.4m0 -5.4l-5.4 5.4M521.86 487.71l5.4 5.4m0 -5.4l-5.4 5.4M541.57 464.69l5.4 5.4m0 -5.4l-5.4 5.4M561.28 447.18l5.4 5.4m0 -5.4l-5.4 5.4M580.98 428.04l5.4 5.4m0 -5.4l-5.4 5.4M600.69 407.29l5.4 5.4m0 -5.4l-5.4 5.4M620.40 393.34l5.4 5.4m0 -5.4l-5.4 5.4M640.10 391.07l5.4 5.4m0 -5.4l-5.4 5.4M659.81 389.78l5.4 5.4m0 -5.4l-5.4 5.4M679.52 384.59l5.4 5.4m0 -5.4l-5.4 5.4M699.23 376.16l5.4 5.4m0 -5.4l-5.4 5.4M718.93 379.08l5.4 5.4m0 -5.4l-5.4 5.4M738.64 383.62l5.4 5.4m0 -5.4l-5.4 5.4M758.35 371.94l5.4 5.4m0 -5.4l-5.4 5.4M778.06 371.29l5.4 5.4m0 -5.4l-5.4 5.4M797.76 366.43l5.4 5.4m0 -5.4l-5.4 5.4M817.47 363.83l5.4 5.4m0 -5.4l-5.4 5.4M837.18 364.16l5.4 5.4m0 -5.4l-5.4 5.4M856.89 357.02l5.4 5.4m0 -5.4l-5.4 5.4M876.59 358.65l5.4 5.4m0 -5.4l-5.4 5.4" stroke="#8b1e3e" stroke-width="1.1" fill="none"/>
<path d="M91.00 532.57 L110.71 533.22 L130.41 522.19 L150.12 518.30 L169.83 513.44 L189.54 505.33 L209.24 497.22 L228.95 483.60 L248.66 463.17 L268.37 453.12 L288.07 455.39 L307.78 440.47 L327.49 425.88 L347.20 405.12 L366.90 407.07 L386.61 404.48 L406.32 400.58 L426.02 385.99 L445.73 377.24 L465.44 371.40 L485.15 371.72 L504.85 499.17 L524.56 462.85 L544.27 433.99 L563.98 407.39 L583.68 391.83 L603.39 385.99 L623.10 372.70 L642.80 367.51 L662.51 362.64 L682.22 361.02 L701.93 359.40 L721.63 352.27 L741.34 358.10 L761.05 350.00 L780.76 348.05 L800.46 346.43 L820.17 339.29 L839.88 341.56 L859.59 341.89 L879.29 340.59" stroke="#9a9a9a" stroke-width="2.2" fill="none" stroke-dasharray="7.8,3.4" stroke-linejoin="round"/>
<path d="M88.30 529.87l5.4 5.4m0 -5.4l-5.4 5.4M108.01 530.52l5.4 5.4m0 -5.4l-5.4 5.4M127.71 519.49l5.4 5.4m0 -5.4l-5.4 5.4M147.42 515.60l5.4 5.4m0 -5.4l-5.4 5.4M167.13 510.74l5.4 5.4m0 -5.4l-5.4 5.4M186.84 502.63l5.4 5.4m0 -5.4l-5.4 5.4M206.54 494.52l5.4 5.4m0 -5.4l-5.4 5.4M226.25 480.90l5.4 5.4m0 -5.4l-5.4 5.4M245.96 460.47l5.4 5.4m0 -5.4l-5.4 5.4M265.67 450.42l5.4 5.4m0 -5.4l-5.4 5.4M285.37 452.69l5.4 5.4m0 -5.4l-5.4 5.4M305.08 437.77l5.4 5.4m0 -5.4l-5.4 5.4M324.79 423.18l5.4 5.4m0 -5.4l-5.4 5.4M344.50 402.42l5.4 5.4m0 -5.4l-5.4 5.4M364.20 404.37l5.4 5.4m0 -5.4l-5.4 5.4M383.91 401.78l5.4 5.4m0 -5.4l-5.4 5.4M403.62 397.88l5.4 5.4m0 -5.4l-5.4 5.4M423.32 383.29l5.4 5.4m0 -5.4l-5.4 5.4M443.03 374.54l5.4 5.4m0 -5.4l-5.4 5.4M462.74 368.70l5.4 5.4m0 -5.4l-5.4 5.4M482.45 369.02l5.4 5.4m0 -5.4l-5.4 5.4M502.15 496.47l5.4 5.4m0 -5.4l-5.4 5.4M521.86 460.15l5.4 5.4m0 -5.4l-5.4 5.4M541.57 431.29l5.4 5.4m0 -5.4l-5.4 5.4M561.28 404.69l5.4 5.4m0 -5.4l-5.4 5.4M580.98 389.13l5.4 5.4m0 -5.4l-5.4 5.4M600.69 383.29l5.4 5.4m0 -5.4l-5.4 5.4M620.40 370.00l5.4 5.4m0 -5.4l-5.4 5.4M640.10 364.81l5.4 5.4m0 -5.4l-5.4 5.4M659.81 359.94l5.4 5.4m0 -5.4l-5.4 5.4M679.52 358.32l5.4 5.4m0 -5.4l-5.4 5.4M699.23 356.70l5.4 5.4m0 -5.4l-5.4 5.4M718.93 349.57l5.4 5.4m0 -5.4l-5.4 5.4M738.64 355.40l5.4 5.4m0 -5.4l-5.4 5.4M758.35 347.30l5.4 5.4m0 -5.4l-5.4 5.4M778.06 345.35l5.4 5.4m0 -5.4l-5.4 5.4M797.76 343.73l5.4 5.4m0 -5.4l-5.4 5.4M817.47 336.59l5.4 5.4m0 -5.4l-5.4 5.4M837.18 338.86l5.4 5.4m0 -5.4l-5.4 5.4M856.89 339.19l5.4 5.4m0 -5.4l-5.4 5.4M876.59 337.89l5.4 5.4m0 -5.4l-5.4 5.4" stroke="#9a9a9a" stroke-width="1.1" fill="none"/>
<path d="M91.00 532.57 L110.71 533.22 L130.41 523.16 L150.12 516.35 L169.83 511.81 L189.54 502.41 L209.24 506.95 L228.95 497.87 L248.66 488.47 L268.37 476.14 L288.07 463.82 L307.78 443.71 L327.49 434.31 L347.20 433.66 L366.90 414.53 L386.61 407.72 L406.32 397.99 L426.02 387.94 L445.73 387.29 L465.44 376.59 L485.15 374.32 L504.85 503.71 L524.56 476.14 L544.27 441.44 L563.98 414.53 L583.68 400.58 L603.39 380.48 L623.10 370.43 L642.80 364.59 L662.51 358.43 L682.22 358.10 L701.93 345.46 L721.63 348.70 L741.34 347.73 L761.05 346.75 L780.76 346.75 L800.46 345.13 L820.17 340.92 L839.88 339.94 L859.59 340.59 L879.29 335.08" stroke="#e26841" stroke-width="2.2" fill="none" stroke-dasharray="7.8,3.4" stroke-linejoin="round"/>
<path d="M88.30 529.87l5.4 5.4m0 -5.4l-5.4 5.4M108.01 530.52l5.4 5.4m0 -5.4l-5.4 5.4M127.71 520.46l5.4 5.4m0 -5.4l-5.4 5.4M147.42 513.65l5.4 5.4m0 -5.4l-5.4 5.4M167.13 509.11l5.4 5.4m0 -5.4l-5.4 5.4M186.84 499.71l5.4 5.4m0 -5.4l-5.4 5.4M206.54 504.25l5.4 5.4m0 -5.4l-5.4 5.4M226.25 495.17l5.4 5.4m0 -5.4l-5.4 5.4M245.96 485.77l5.4 5.4m0 -5.4l-5.4 5.4M265.67 473.44l5.4 5.4m0 -5.4l-5.4 5.4M285.37 461.12l5.4 5.4m0 -5.4l-5.4 5.4M305.08 441.01l5.4 5.4m0 -5.4l-5.4 5.4M324.79 431.61l5.4 5.4m0 -5.4l-5.4 5.4M344.50 430.96l5.4 5.4m0 -5.4l-5.4 5.4M364.20 411.83l5.4 5.4m0 -5.4l-5.4 5.4M383.91 405.02l5.4 5.4m0 -5.4l-5.4 5.4M403.62 395.29l5.4 5.4m0 -5.4l-5.4 5.4M423.32 385.24l5.4 5.4m0 -5.4l-5.4 5.4M443.03 384.59l5.4 5.4m0 -5.4l-5.4 5.4M462.74 373.89l5.4 5.4m0 -5.4l-5.4 5.4M482.45 371.62l5.4 5.4m0 -5.4l-5.4 5.4M502.15 501.01l5.4 5.4m0 -5.4l-5.4 5.4M521.86 473.44l5.4 5.4m0 -5.4l-5.4 5.4M541.57 438.74l5.4 5.4m0 -5.4l-5.4 5.4M561.28 411.83l5.4 5.4m0 -5.4l-5.4 5.4M580.98 397.88l5.4 5.4m0 -5.4l-5.4 5.4M600.69 377.78l5.4 5.4m0 -5.4l-5.4 5.4M620.40 367.73l5.4 5.4m0 -5.4l-5.4 5.4M640.10 361.89l5.4 5.4m0 -5.4l-5.4 5.4M659.81 355.73l5.4 5.4m0 -5.4l-5.4 5.4M679.52 355.40l5.4 5.4m0 -5.4l-5.4 5.4M699.23 342.76l5.4 5.4m0 -5.4l-5.4 5.4M718.93 346.00l5.4 5.4m0 -5.4l-5.4 5.4M738.64 345.03l5.4 5.4m0 -5.4l-5.4 5.4M758.35 344.05l5.4 5.4m0 -5.4l-5.4 5.4M778.06 344.05l5.4 5.4m0 -5.4l-5.4 5.4M797.76 342.43l5.4 5.4m0 -5.4l-5.4 5.4M817.47 338.22l5.4 5.4m0 -5.4l-5.4 5.4M837.18 337.24l5.4 5.4m0 -5.4l-5.4 5.4M856.89 337.89l5.4 5.4m0 -5.4l-5.4 5.4M876.59 332.38l5.4 5.4m0 -5.4l-5.4 5.4" stroke="#e26841" stroke-width="1.1" fill="none"/>
<path d="M91.00 532.57 L110.71 533.22 L130.41 519.92 L150.12 509.22 L169.83 502.41 L189.54 492.03 L209.24 482.63 L228.95 471.60 L248.66 452.47 L268.37 439.50 L288.07 444.69 L307.78 433.34 L327.49 424.58 L347.20 415.18 L366.90 405.77 L386.61 399.29 L406.32 393.77 L426.02 384.69 L445.73 377.88 L465.44 375.29 L485.15 373.67 L504.85 499.17 L524.56 451.17 L544.27 421.01 L563.98 396.04 L583.68 395.40 L603.39 379.18 L623.10 376.59 L642.80 369.78 L662.51 363.29 L682.22 364.26 L701.93 360.37 L721.63 357.45 L741.34 352.91 L761.05 349.67 L780.76 353.56 L800.46 349.67 L820.17 347.73 L839.88 354.21 L859.59 350.32 L879.29 345.13" stroke="#8a5547" stroke-width="2.2" fill="none" stroke-dasharray="7.8,3.4" stroke-linejoin="round"/>
<path d="M88.30 529.87l5.4 5.4m0 -5.4l-5.4 5.4M108.01 530.52l5.4 5.4m0 -5.4l-5.4 5.4M127.71 517.22l5.4 5.4m0 -5.4l-5.4 5.4M147.42 506.52l5.4 5.4m0 -5.4l-5.4 5.4M167.13 499.71l5.4 5.4m0 -5.4l-5.4 5.4M186.84 489.33l5.4 5.4m0 -5.4l-5.4 5.4M206.54 479.93l5.4 5.4m0 -5.4l-5.4 5.4M226.25 468.90l5.4 5.4m0 -5.4l-5.4 5.4M245.96 449.77l5.4 5.4m0 -5.4l-5.4 5.4M265.67 436.80l5.4 5.4m0 -5.4l-5.4 5.4M285.37 441.99l5.4 5.4m0 -5.4l-5.4 5.4M305.08 430.64l5.4 5.4m0 -5.4l-5.4 5.4M324.79 421.88l5.4 5.4m0 -5.4l-5.4 5.4M344.50 412.48l5.4 5.4m0 -5.4l-5.4 5.4M364.20 403.07l5.4 5.4m0 -5.4l-5.4 5.4M383.91 396.59l5.4 5.4m0 -5.4l-5.4 5.4M403.62 391.07l5.4 5.4m0 -5.4l-5.4 5.4M423.32 381.99l5.4 5.4m0 -5.4l-5.4 5.4M443.03 375.18l5.4 5.4m0 -5.4l-5.4 5.4M462.74 372.59l5.4 5.4m0 -5.4l-5.4 5.4M482.45 370.97l5.4 5.4m0 -5.4l-5.4 5.4M502.15 496.47l5.4 5.4m0 -5.4l-5.4 5.4M521.86 448.47l5.4 5.4m0 -5.4l-5.4 5.4M541.57 418.31l5.4 5.4m0 -5.4l-5.4 5.4M561.28 393.34l5.4 5.4m0 -5.4l-5.4 5.4M580.98 392.70l5.4 5.4m0 -5.4l-5.4 5.4M600.69 376.48l5.4 5.4m0 -5.4l-5.4 5.4M620.40 373.89l5.4 5.4m0 -5.4l-5.4 5.4M640.10 367.08l5.4 5.4m0 -5.4l-5.4 5.4M659.81 360.59l5.4 5.4m0 -5.4l-5.4 5.4M679.52 361.56l5.4 5.4m0 -5.4l-5.4 5.4M699.23 357.67l5.4 5.4m0 -5.4l-5.4 5.4M718.93 354.75l5.4 5.4m0 -5.4l-5.4 5.4M738.64 350.21l5.4 5.4m0 -5.4l-5.4 5.4M758.35 346.97l5.4 5.4m0 -5.4l-5.4 5.4M778.06 350.86l5.4 5.4m0 -5.4l-5.4 5.4M797.76 346.97l5.4 5.4m0 -5.4l-5.4 5.4M817.47 345.03l5.4 5.4m0 -5.4l-5.4 5.4M837.18 351.51l5.4 5.4m0 -5.4l-5.4 5.4M856.89 347.62l5.4 5.4m0 -5.4l-5.4 5.4M876.59 342.43l5.4 5.4m0 -5.4l-5.4 5.4" stroke="#8a5547" stroke-width="1.1" fill="none"/>
<path d="M91.00 532.57 L110.71 533.22 L130.41 524.46 L150.12 519.92 L169.83 512.79 L189.54 505.98 L209.24 502.09 L228.95 492.03 L248.66 471.60 L268.37 463.82 L288.07 446.63 L307.78 443.07 L327.49 429.77 L347.20 413.88 L366.90 408.69 L386.61 396.04 L406.32 382.10 L426.02 371.40 L445.73 367.18 L465.44 356.48 L485.15 348.70 L504.85 506.95 L524.56 476.14 L544.27 424.26 L563.98 393.45 L583.68 375.29 L603.39 359.72 L623.10 357.45 L642.80 349.02 L662.51 346.75 L682.22 344.81 L701.93 339.94 L721.63 336.70 L741.34 338.97 L761.05 339.94 L780.76 338.32 L800.46 335.08 L820.17 331.84 L839.88 331.84 L859.59 327.94 L879.29 327.94" stroke="#272a60" stroke-width="2.2" fill="none" stroke-dasharray="7.8,3.4" stroke-linejoin="round"/>
<path d="M88.30 529.87l5.4 5.4m0 -5.4l-5.4 5.4M108.01 530.52l5.4 5.4m0 -5.4l-5.4 5.4M127.71 521.76l5.4 5.4m0 -5.4l-5.4 5.4M147.42 517.22l5.4 5.4m0 -5.4l-5.4 5.4M167.13 510.09l5.4 5.4m0 -5.4l-5.4 5.4M186.84 503.28l5.4 5.4m0 -5.4l-5.4 5.4M206.54 499.39l5.4 5.4m0 -5.4l-5.4 5.4M226.25 489.33l5.4 5.4m0 -5.4l-5.4 5.4M245.96 468.90l5.4 5.4m0 -5.4l-5.4 5.4M265.67 461.12l5.4 5.4m0 -5.4l-5.4 5.4M285.37 443.93l5.4 5.4m0 -5.4l-5.4 5.4M305.08 440.37l5.4 5.4m0 -5.4l-5.4 5.4M324.79 427.07l5.4 5.4m0 -5.4l-5.4 5.4M344.50 411.18l5.4 5.4m0 -5.4l-5.4 5.4M364.20 405.99l5.4 5.4m0 -5.4l-5.4 5.4M383.91 393.34l5.4 5.4m0 -5.4l-5.4 5.4M403.62 379.40l5.4 5.4m0 -5.4l-5.4 5.4M423.32 368.70l5.4 5.4m0 -5.4l-5.4 5.4M443.03 364.48l5.4 5.4m0 -5.4l-5.4 5.4M462.74 353.78l5.4 5.4m0 -5.4l-5.4 5.4M482.45 346.00l5.4 5.4m0 -5.4l-5.4 5.4M502.15 504.25l5.4 5.4m0 -5.4l-5.4 5.4M521.86 473.44l5.4 5.4m0 -5.4l-5.4 5.4M541.57 421.56l5.4 5.4m0 -5.4l-5.4 5.4M561.28 390.75l5.4 5.4m0 -5.4l-5.4 5.4M580.98 372.59l5.4 5.4m0 -5.4l-5.4 5.4M600.69 357.02l5.4 5.4m0 -5.4l-5.4 5.4M620.40 354.75l5.4 5.4m0 -5.4l-5.4 5.4M640.10 346.32l5.4 5.4m0 -5.4l-5.4 5.4M659.81 344.05l5.4 5.4m0 -5.4l-5.4 5.4M679.52 342.11l5.4 5.4m0 -5.4l-5.4 5.4M699.23 337.24l5.4 5.4m0 -5.4l-5.4 5.4M718.93 334.00l5.4 5.4m0 -5.4l-5.4 5.4M738.64 336.27l5.4 5.4m0 -5.4l-5.4 5.4M758.35 337.24l5.4 5.4m0 -5.4l-5.4 5.4M778.06 335.62l5.4 5.4m0 -5.4l-5.4 5.4M797.76 332.38l5.4 5.4m0 -5.4l-5.4 5.4M817.47 329.14l5.4 5.4m0 -5.4l-5.4 5.4M837.18 329.14l5.4 5.4m0 -5.4l-5.4 5.4M856.89 325.24l5.4 5.4m0 -5.4l-5.4 5.4M876.59 325.24l5.4 5.4m0 -5.4l-5.4 5.4" stroke="#272a60" stroke-width="1.1" fill="none"/>
</g>
<path d="M87.50 541.00H91.00M87.50 508.57H91.00M87.50 476.14H91.00M87.50 443.71H91.00M87.50 411.29H91.00M87.50 378.86H91.00M87.50 346.43H91.00M87.50 314.00H91.00M91.00 541.00V544.50M130.41 541.00V544.50M169.83 541.00V544.50M209.24 541.00V544.50M248.66 541.00V544.50M288.07 541.00V544.50M327.49 541.00V544.50M366.90 541.00V544.50M406.32 541.00V544.50M445.73 541.00V544.50M485.15 541.00V544.50M524.56 541.00V544.50M563.98 541.00V544.50M603.39 541.00V544.50M642.80 541.00V544.50M682.22 541.00V544.50M721.63 541.00V544.50M761.05 541.00V544.50M800.46 541.00V544.50M839.88 541.00V544.50M879.29 541.00V544.50" stroke="#333" stroke-width="1.1" fill="none"/>
<text x="86.8" y="551.40" text-anchor="end" font-family='"Liberation Serif", serif' font-size="30.8">0.1</text>
<text x="86.8" y="518.97" text-anchor="end" font-family='"Liberation Serif", serif' font-size="30.8">0.2</text>
<text x="86.8" y="486.54" text-anchor="end" font-family='"Liberation Serif", serif' font-size="30.8">0.3</text>
<text x="86.8" y="454.11" text-anchor="end" font-family='"Liberation Serif", serif' font-size="30.8">0.4</text>
<text x="86.8" y="421.69" text-anchor="end" font-family='"Liberation Serif", serif' font-size="30.8">0.5</text>
<text x="86.8" y="389.26" text-anchor="end" font-family='"Liberation Serif", serif' font-size="30.8">0.6</text>
<text x="86.8" y="356.83" text-anchor="end" font-family='"Liberation Serif", serif' font-size="30.8">0.7</text>
<text x="86.8" y="324.40" text-anchor="end" font-family='"Liberation Serif", serif' font-size="30.8">0.8</text>
<text x="495.00" y="299.50" text-anchor="middle" font-family='"Liberation Serif", serif' font-size="36.56">Model Performance with 1 Event Interference</text>
<rect x="91.00" y="586.50" width="808.00" height="227.00" fill="#eef6fe"/>
<rect x="306.88" y="586.50" width="592.12" height="227.00" fill="#e0f2fe"/>
<rect x="503.95" y="586.50" width="395.05" height="227.00" fill="#d5eafd"/>
<rect x="701.03" y="586.50" width="197.97" height="227.00" fill="#c5e6fe"/>
<path d="M91.00 813.50H899.00M91.00 781.07H899.00M91.00 748.64H899.00M91.00 716.21H899.00M91.00 683.79H899.00M91.00 651.36H899.00M91.00 618.93H899.00M91.00 586.50V813.50M130.41 586.50V813.50M169.83 586.50V813.50M209.24 586.50V813.50M248.66 586.50V813.50M288.07 586.50V813.50M327.49 586.50V813.50M366.90 586.50V813.50M406.32 586.50V813.50M445.73 586.50V813.50M485.15 586.50V813.50M524.56 586.50V813.50M563.98 586.50V813.50M603.39 586.50V813.50M642.80 586.50V813.50M682.22 586.50V813.50M721.63 586.50V813.50M761.05 586.50V813.50M800.46 586.50V813.50M839.88 586.50V813.50M879.29 586.50V813.50" stroke="#cfd3da" stroke-width="1" fill="none"/>
<rect x="91.00" y="586.50" width="808.00" height="227.00" fill="none" stroke="#222" stroke-width="0.9"/>
<g clip-path="url(#c2)">
<path d="M91.00 800.20 L110.71 778.48 L130.41 776.86 L150.12 777.83 L169.83 778.48 L189.54 779.45 L209.24 771.67 L228.95 771.34 L248.66 768.10 L268.37 765.83 L288.07 761.29 L307.78 761.61 L327.49 759.67 L347.20 759.34 L366.90 755.78 L386.61 758.37 L406.32 749.94 L426.02 748.32 L445.73 742.81 L465.44 734.37 L485.15 726.27 L504.85 750.26 L524.56 743.78 L544.27 742.48 L563.98 745.40 L583.68 733.40 L603.39 726.59 L623.10 722.38 L642.80 712.65 L662.51 708.11 L682.22 697.41 L701.93 742.16 L721.63 735.02 L741.34 728.86 L761.05 719.78 L780.76 718.81 L800.46 709.40 L820.17 702.92 L839.88 705.51 L859.59 694.16 L879.29 691.57" stroke="#3a5a36" stroke-width="2.2" fill="none" stroke-linejoin="round"/>
<circle cx="91.00" cy="800.20" r="2.4" fill="#3a5a36"/>
<circle cx="110.71" cy="778.48" r="2.4" fill="#3a5a36"/>
<circle cx="130.41" cy="776.86" r="2.4" fill="#3a5a36"/>
<circle cx="150.12" cy="777.83" r="2.4" fill="#3a5a36"/>
<circle cx="169.83" cy="778.48" r="2.4" fill="#3a5a36"/>
<circle cx="189.54" cy="779.45" r="2.4" fill="#3a5a36"/>
<circle cx="209.24" cy="771.67" r="2.4" fill="#3a5a36"/>
<circle cx="228.95" cy="771.34" r="2.4" fill="#3a5a36"/>
<circle cx="248.66" cy="768.10" r="2.4" fill="#3a5a36"/>
<circle cx="268.37" cy="765.83" r="2.4" fill="#3a5a36"/>
<circle cx="288.07" cy="761.29" r="2.4" fill="#3a5a36"/>
<circle cx="307.78" cy="761.61" r="2.4" fill="#3a5a36"/>
<circle cx="327.49" cy="759.67" r="2.4" fill="#3a5a36"/>
<circle cx="347.20" cy="759.34" r="2.4" fill="#3a5a36"/>
<circle cx="366.90" cy="755.78" r="2.4" fill="#3a5a36"/>
<circle cx="386.61" cy="758.37" r="2.4" fill="#3a5a36"/>
<circle cx="406.32" cy="749.94" r="2.4" fill="#3a5a36"/>
<circle cx="426.02" cy="748.32" r="2.4" fill="#3a5a36"/>
<circle cx="445.73" cy="742.81" r="2.4" fill="#3a5a36"/>
<circle cx="465.44" cy="734.37" r="2.4" fill="#3a5a36"/>
<circle cx="485.15" cy="726.27" r="2.4" fill="#3a5a36"/>
<circle cx="504.85" cy="750.26" r="2.4" fill="#3a5a36"/>
<circle cx="524.56" cy="743.78" r="2.4" fill="#3a5a36"/>
<circle cx="544.27" cy="742.48" r="2.4" fill="#3a5a36"/>
<circle cx="563.98" cy="745.40" r="2.4" fill="#3a5a36"/>
<circle cx="583.68" cy="733.40" r="2.4" fill="#3a5a36"/>
<circle cx="603.39" cy="726.59" r="2.4" fill="#3a5a36"/>
<circle cx="623.10" cy="722.38" r="2.4" fill="#3a5a36"/>
<circle cx="642.80" cy="712.65" r="2.4" fill="#3a5a36"/>
<circle cx="662.51" cy="708.11" r="2.4" fill="#3a5a36"/>
<circle cx="682.22" cy="697.41" r="2.4" fill="#3a5a36"/>
<circle cx="701.93" cy="742.16" r="2.4" fill="#3a5a36"/>
<circle cx="721.63" cy="735.02" r="2.4" fill="#3a5a36"/>
<circle cx="741.34" cy="728.86" r="2.4" fill="#3a5a36"/>
<circle cx="761.05" cy="719.78" r="2.4" fill="#3a5a36"/>
<circle cx="780.76" cy="718.81" r="2.4" fill="#3a5a36"/>
<circle cx="800.46" cy="709.40" r="2.4" fill="#3a5a36"/>
<circle cx="820.17" cy="702.92" r="2.4" fill="#3a5a36"/>
<circle cx="839.88" cy="705.51" r="2.4" fill="#3a5a36"/>
<circle cx="859.59" cy="694.16" r="2.4" fill="#3a5a36"/>
<circle cx="879.29" cy="691.57" r="2.4" fill="#3a5a36"/>
<path d="M91.00 800.20 L110.71 778.48 L130.41 779.45 L150.12 779.45 L169.83 780.10 L189.54 779.45 L209.24 772.96 L228.95 774.59 L248.66 773.94 L268.37 769.72 L288.07 765.18 L307.78 764.86 L327.49 758.37 L347.20 751.89 L366.90 754.48 L386.61 754.48 L406.32 756.75 L426.02 756.75 L445.73 747.67 L465.44 744.75 L485.15 740.21 L504.85 761.29 L524.56 744.10 L544.27 736.32 L563.98 740.54 L583.68 730.48 L603.39 735.02 L623.10 733.40 L642.80 725.94 L662.51 718.16 L682.22 710.05 L701.93 743.45 L721.63 737.62 L741.34 732.75 L761.05 724.65 L780.76 721.73 L800.46 724.65 L820.17 712.97 L839.88 709.40 L859.59 713.30 L879.29 706.49" stroke="#8b1e3e" stroke-width="2.2" fill="none" stroke-linejoin="round"/>
<circle cx="91.00" cy="800.20" r="2.4" fill="#8b1e3e"/>
<circle cx="110.71" cy="778.48" r="2.4" fill="#8b1e3e"/>
<circle cx="130.41" cy="779.45" r="2.4" fill="#8b1e3e"/>
<circle cx="150.12" cy="779.45" r="2.4" fill="#8b1e3e"/>
<circle cx="169.83" cy="780.10" r="2.4" fill="#8b1e3e"/>
<circle cx="189.54" cy="779.45" r="2.4" fill="#8b1e3e"/>
<circle cx="209.24" cy="772.96" r="2.4" fill="#8b1e3e"/>
<circle cx="228.95" cy="774.59" r="2.4" fill="#8b1e3e"/>
<circle cx="248.66" cy="773.94" r="2.4" fill="#8b1e3e"/>
<circle cx="268.37" cy="769.72" r="2.4" fill="#8b1e3e"/>
<circle cx="288.07" cy="765.18" r="2.4" fill="#8b1e3e"/>
<circle cx="307.78" cy="764.86" r="2.4" fill="#8b1e3e"/>
<circle cx="327.49" cy="758.37" r="2.4" fill="#8b1e3e"/>
<circle cx="347.20" cy="751.89" r="2.4" fill="#8b1e3e"/>
<circle cx="366.90" cy="754.48" r="2.4" fill="#8b1e3e"/>
<circle cx="386.61" cy="754.48" r="2.4" fill="#8b1e3e"/>
<circle cx="406.32" cy="756.75" r="2.4" fill="#8b1e3e"/>
<circle cx="426.02" cy="756.75" r="2.4" fill="#8b1e3e"/>
<circle cx="445.73" cy="747.67" r="2.4" fill="#8b1e3e"/>
<circle cx="465.44" cy="744.75" r="2.4" fill="#8b1e3e"/>
<circle cx="485.15" cy="740.21" r="2.4" fill="#8b1e3e"/>
<circle cx="504.85" cy="761.29" r="2.4" fill="#8b1e3e"/>
<circle cx="524.56" cy="744.10" r="2.4" fill="#8b1e3e"/>
<circle cx="544.27" cy="736.32" r="2.4" fill="#8b1e3e"/>
<circle cx="563.98" cy="740.54" r="2.4" fill="#8b1e3e"/>
<circle cx="583.68" cy="730.48" r="2.4" fill="#8b1e3e"/>
<circle cx="603.39" cy="735.02" r="2.4" fill="#8b1e3e"/>
<circle cx="623.10" cy="733.40" r="2.4" fill="#8b1e3e"/>
<circle cx="642.80" cy="725.94" r="2.4" fill="#8b1e3e"/>
<circle cx="662.51" cy="718.16" r="2.4" fill="#8b1e3e"/>
<circle cx="682.22" cy="710.05" r="2.4" fill="#8b1e3e"/>
<circle cx="701.93" cy="743.45" r="2.4" fill="#8b1e3e"/>
<circle cx="721.63" cy="737.62" r="2.4" fill="#8b1e3e"/>
<circle cx="741.34" cy="732.75" r="2.4" fill="#8b1e3e"/>
<circle cx="761.05" cy="724.65" r="2.4" fill="#8b1e3e"/>
<circle cx="780.76" cy="721.73" r="2.4" fill="#8b1e3e"/>
<circle cx="800.46" cy="724.65" r="2.4" fill="#8b1e3e"/>
<circle cx="820.17" cy="712.97" r="2.4" fill="#8b1e3e"/>
<circle cx="839.88" cy="709.40" r="2.4" fill="#8b1e3e"/>
<circle cx="859.59" cy="713.30" r="2.4" fill="#8b1e3e"/>
<circle cx="879.29" cy="706.49" r="2.4" fill="#8b1e3e"/>
<path d="M91.00 800.20 L110.71 778.48 L130.41 777.83 L150.12 776.21 L169.83 775.56 L189.54 774.26 L209.24 767.78 L228.95 749.94 L248.66 756.75 L268.37 740.54 L288.07 735.35 L307.78 755.78 L327.49 732.43 L347.20 722.70 L366.90 720.11 L386.61 719.78 L406.32 706.81 L426.02 703.24 L445.73 690.92 L465.44 693.84 L485.15 704.54 L504.85 736.97 L524.56 716.21 L544.27 707.78 L563.98 695.46 L583.68 687.03 L603.39 678.27 L623.10 668.22 L642.80 667.57 L662.51 665.95 L682.22 672.11 L701.93 726.92 L721.63 701.62 L741.34 694.16 L761.05 681.19 L780.76 677.62 L800.46 674.71 L820.17 675.03 L839.88 675.68 L859.59 672.44 L879.29 671.79" stroke="#fbd98a" stroke-width="2.2" fill="none" stroke-linejoin="round"/>
<circle cx="91.00" cy="800.20" r="2.4" fill="#fbd98a"/>
<circle cx="110.71" cy="778.48" r="2.4" fill="#fbd98a"/>
<circle cx="130.41" cy="777.83" r="2.4" fill="#fbd98a"/>
<circle cx="150.12" cy="776.21" r="2.4" fill="#fbd98a"/>
<circle cx="169.83" cy="775.56" r="2.4" fill="#fbd98a"/>
<circle cx="189.54" cy="774.26" r="2.4" fill="#fbd98a"/>
<circle cx="209.24" cy="767.78" r="2.4" fill="#fbd98a"/>
<circle cx="228.95" cy="749.94" r="2.4" fill="#fbd98a"/>
<circle cx="248.66" cy="756.75" r="2.4" fill="#fbd98a"/>
<circle cx="268.37" cy="740.54" r="2.4" fill="#fbd98a"/>
<circle cx="288.07" cy="735.35" r="2.4" fill="#fbd98a"/>
<circle cx="307.78" cy="755.78" r="2.4" fill="#fbd98a"/>
<circle cx="327.49" cy="732.43" r="2.4" fill="#fbd98a"/>
<circle cx="347.20" cy="722.70" r="2.4" fill="#fbd98a"/>
<circle cx="366.90" cy="720.11" r="2.4" fill="#fbd98a"/>
<circle cx="386.61" cy="719.78" r="2.4" fill="#fbd98a"/>
<circle cx="406.32" cy="706.81" r="2.4" fill="#fbd98a"/>
<circle cx="426.02" cy="703.24" r="2.4" fill="#fbd98a"/>
<circle cx="445.73" cy="690.92" r="2.4" fill="#fbd98a"/>
<circle cx="465.44" cy="693.84" r="2.4" fill="#fbd98a"/>
<circle cx="485.15" cy="704.54" r="2.4" fill="#fbd98a"/>
<circle cx="504.85" cy="736.97" r="2.4" fill="#fbd98a"/>
<circle cx="524.56" cy="716.21" r="2.4" fill="#fbd98a"/>
<circle cx="544.27" cy="707.78" r="2.4" fill="#fbd98a"/>
<circle cx="563.98" cy="695.46" r="2.4" fill="#fbd98a"/>
<circle cx="583.68" cy="687.03" r="2.4" fill="#fbd98a"/>
<circle cx="603.39" cy="678.27" r="2.4" fill="#fbd98a"/>
<circle cx="623.10" cy="668.22" r="2.4" fill="#fbd98a"/>
<circle cx="642.80" cy="667.57" r="2.4" fill="#fbd98a"/>
<circle cx="662.51" cy="665.95" r="2.4" fill="#fbd98a"/>
<circle cx="682.22" cy="672.11" r="2.4" fill="#fbd98a"/>
<circle cx="701.93" cy="726.92" r="2.4" fill="#fbd98a"/>
<circle cx="721.63" cy="701.62" r="2.4" fill="#fbd98a"/>
<circle cx="741.34" cy="694.16" r="2.4" fill="#fbd98a"/>
<circle cx="761.05" cy="681.19" r="2.4" fill="#fbd98a"/>
<circle cx="780.76" cy="677.62" r="2.4" fill="#fbd98a"/>
<circle cx="800.46" cy="674.71" r="2.4" fill="#fbd98a"/>
<circle cx="820.17" cy="675.03" r="2.4" fill="#fbd98a"/>
<circle cx="839.88" cy="675.68" r="2.4" fill="#fbd98a"/>
<circle cx="859.59" cy="672.44" r="2.4" fill="#fbd98a"/>
<circle cx="879.29" cy="671.79" r="2.4" fill="#fbd98a"/>
<path d="M91.00 800.20 L110.71 778.48 L130.41 783.02 L150.12 777.83 L169.83 779.13 L189.54 780.42 L209.24 775.56 L228.95 767.78 L248.66 762.91 L268.37 759.02 L288.07 745.40 L307.78 761.61 L327.49 749.62 L347.20 738.91 L366.90 727.56 L386.61 719.13 L406.32 707.46 L426.02 711.67 L445.73 700.00 L465.44 696.76 L485.15 686.06 L504.85 745.40 L524.56 725.94 L544.27 709.73 L563.98 688.00 L583.68 683.14 L603.39 680.87 L623.10 669.84 L642.80 668.22 L662.51 666.27 L682.22 664.33 L701.93 738.91 L721.63 716.21 L741.34 703.24 L761.05 685.73 L780.76 685.08 L800.46 674.06 L820.17 666.27 L839.88 660.76 L859.59 661.09 L879.29 661.73" stroke="#e26841" stroke-width="2.2" fill="none" stroke-linejoin="round"/>
<circle cx="91.00" cy="800.20" r="2.4" fill="#e26841"/>
<circle cx="110.71" cy="778.48" r="2.4" fill="#e26841"/>
<circle cx="130.41" cy="783.02" r="2.4" fill="#e26841"/>
<circle cx="150.12" cy="777.83" r="2.4" fill="#e26841"/>
<circle cx="169.83" cy="779.13" r="2.4" fill="#e26841"/>
<circle cx="189.54" cy="780.42" r="2.4" fill="#e26841"/>
<circle cx="209.24" cy="775.56" r="2.4" fill="#e26841"/>
<circle cx="228.95" cy="767.78" r="2.4" fill="#e26841"/>
<circle cx="248.66" cy="762.91" r="2.4" fill="#e26841"/>
<circle cx="268.37" cy="759.02" r="2.4" fill="#e26841"/>
<circle cx="288.07" cy="745.40" r="2.4" fill="#e26841"/>
<circle cx="307.78" cy="761.61" r="2.4" fill="#e26841"/>
<circle cx="327.49" cy="749.62" r="2.4" fill="#e26841"/>
<circle cx="347.20" cy="738.91" r="2.4" fill="#e26841"/>
<circle cx="366.90" cy="727.56" r="2.4" fill="#e26841"/>
<circle cx="386.61" cy="719.13" r="2.4" fill="#e26841"/>
<circle cx="406.32" cy="707.46" r="2.4" fill="#e26841"/>
<circle cx="426.02" cy="711.67" r="2.4" fill="#e26841"/>
<circle cx="445.73" cy="700.00" r="2.4" fill="#e26841"/>
<circle cx="465.44" cy="696.76" r="2.4" fill="#e26841"/>
<circle cx="485.15" cy="686.06" r="2.4" fill="#e26841"/>
<circle cx="504.85" cy="745.40" r="2.4" fill="#e26841"/>
<circle cx="524.56" cy="725.94" r="2.4" fill="#e26841"/>
<circle cx="544.27" cy="709.73" r="2.4" fill="#e26841"/>
<circle cx="563.98" cy="688.00" r="2.4" fill="#e26841"/>
<circle cx="583.68" cy="683.14" r="2.4" fill="#e26841"/>
<circle cx="603.39" cy="680.87" r="2.4" fill="#e26841"/>
<circle cx="623.10" cy="669.84" r="2.4" fill="#e26841"/>
<circle cx="642.80" cy="668.22" r="2.4" fill="#e26841"/>
<circle cx="662.51" cy="666.27" r="2.4" fill="#e26841"/>
<circle cx="682.22" cy="664.33" r="2.4" fill="#e26841"/>
<circle cx="701.93" cy="738.91" r="2.4" fill="#e26841"/>
<circle cx="721.63" cy="716.21" r="2.4" fill="#e26841"/>
<circle cx="741.34" cy="703.24" r="2.4" fill="#e26841"/>
<circle cx="761.05" cy="685.73" r="2.4" fill="#e26841"/>
<circle cx="780.76" cy="685.08" r="2.4" fill="#e26841"/>
<circle cx="800.46" cy="674.06" r="2.4" fill="#e26841"/>
<circle cx="820.17" cy="666.27" r="2.4" fill="#e26841"/>
<circle cx="839.88" cy="660.76" r="2.4" fill="#e26841"/>
<circle cx="859.59" cy="661.09" r="2.4" fill="#e26841"/>
<circle cx="879.29" cy="661.73" r="2.4" fill="#e26841"/>
<path d="M91.00 800.20 L110.71 778.48 L130.41 769.07 L150.12 774.59 L169.83 765.18 L189.54 757.72 L209.24 751.24 L228.95 733.40 L248.66 729.51 L268.37 729.51 L288.07 712.32 L307.78 751.89 L327.49 724.97 L347.20 712.97 L366.90 716.54 L386.61 703.24 L406.32 695.78 L426.02 704.54 L445.73 698.38 L465.44 688.97 L485.15 683.79 L504.85 741.83 L524.56 718.48 L544.27 715.57 L563.98 708.76 L583.68 702.59 L603.39 691.89 L623.10 689.30 L642.80 687.03 L662.51 682.16 L682.22 689.30 L701.93 732.75 L721.63 712.32 L741.34 704.54 L761.05 692.87 L780.76 690.60 L800.46 696.43 L820.17 687.03 L839.88 681.84 L859.59 691.24 L879.29 678.27" stroke="#8a5547" stroke-width="2.2" fill="none" stroke-linejoin="round"/>
<circle cx="91.00" cy="800.20" r="2.4" fill="#8a5547"/>
<circle cx="110.71" cy="778.48" r="2.4" fill="#8a5547"/>
<circle cx="130.41" cy="769.07" r="2.4" fill="#8a5547"/>
<circle cx="150.12" cy="774.59" r="2.4" fill="#8a5547"/>
<circle cx="169.83" cy="765.18" r="2.4" fill="#8a5547"/>
<circle cx="189.54" cy="757.72" r="2.4" fill="#8a5547"/>
<circle cx="209.24" cy="751.24" r="2.4" fill="#8a5547"/>
<circle cx="228.95" cy="733.40" r="2.4" fill="#8a5547"/>
<circle cx="248.66" cy="729.51" r="2.4" fill="#8a5547"/>
<circle cx="268.37" cy="729.51" r="2.4" fill="#8a5547"/>
<circle cx="288.07" cy="712.32" r="2.4" fill="#8a5547"/>
<circle cx="307.78" cy="751.89" r="2.4" fill="#8a5547"/>
<circle cx="327.49" cy="724.97" r="2.4" fill="#8a5547"/>
<circle cx="347.20" cy="712.97" r="2.4" fill="#8a5547"/>
<circle cx="366.90" cy="716.54" r="2.4" fill="#8a5547"/>
<circle cx="386.61" cy="703.24" r="2.4" fill="#8a5547"/>
<circle cx="406.32" cy="695.78" r="2.4" fill="#8a5547"/>
<circle cx="426.02" cy="704.54" r="2.4" fill="#8a5547"/>
<circle cx="445.73" cy="698.38" r="2.4" fill="#8a5547"/>
<circle cx="465.44" cy="688.97" r="2.4" fill="#8a5547"/>
<circle cx="485.15" cy="683.79" r="2.4" fill="#8a5547"/>
<circle cx="504.85" cy="741.83" r="2.4" fill="#8a5547"/>
<circle cx="524.56" cy="718.48" r="2.4" fill="#8a5547"/>
<circle cx="544.27" cy="715.57" r="2.4" fill="#8a5547"/>
<circle cx="563.98" cy="708.76" r="2.4" fill="#8a5547"/>
<circle cx="583.68" cy="702.59" r="2.4" fill="#8a5547"/>
<circle cx="603.39" cy="691.89" r="2.4" fill="#8a5547"/>
<circle cx="623.10" cy="689.30" r="2.4" fill="#8a5547"/>
<circle cx="642.80" cy="687.03" r="2.4" fill="#8a5547"/>
<circle cx="662.51" cy="682.16" r="2.4" fill="#8a5547"/>
<circle cx="682.22" cy="689.30" r="2.4" fill="#8a5547"/>
<circle cx="701.93" cy="732.75" r="2.4" fill="#8a5547"/>
<circle cx="721.63" cy="712.32" r="2.4" fill="#8a5547"/>
<circle cx="741.34" cy="704.54" r="2.4" fill="#8a5547"/>
<circle cx="761.05" cy="692.87" r="2.4" fill="#8a5547"/>
<circle cx="780.76" cy="690.60" r="2.4" fill="#8a5547"/>
<circle cx="800.46" cy="696.43" r="2.4" fill="#8a5547"/>
<circle cx="820.17" cy="687.03" r="2.4" fill="#8a5547"/>
<circle cx="839.88" cy="681.84" r="2.4" fill="#8a5547"/>
<circle cx="859.59" cy="691.24" r="2.4" fill="#8a5547"/>
<circle cx="879.29" cy="678.27" r="2.4" fill="#8a5547"/>
<path d="M91.00 800.20 L110.71 775.56 L130.41 780.42 L150.12 781.40 L169.83 781.40 L189.54 781.72 L209.24 779.77 L228.95 763.88 L248.66 753.83 L268.37 757.40 L288.07 747.35 L307.78 766.80 L327.49 757.40 L347.20 753.18 L366.90 738.59 L386.61 727.56 L406.32 716.54 L426.02 709.40 L445.73 699.68 L465.44 692.22 L485.15 688.65 L504.85 750.91 L524.56 729.51 L544.27 709.73 L563.98 699.03 L583.68 692.54 L603.39 676.98 L623.10 673.41 L642.80 666.27 L662.51 665.63 L682.22 662.38 L701.93 737.62 L721.63 719.46 L741.34 703.57 L761.05 682.16 L780.76 671.79 L800.46 664.65 L820.17 656.87 L839.88 656.87 L859.59 660.76 L879.29 649.09" stroke="#272a60" stroke-width="2.2" fill="none" stroke-linejoin="round"/>
<circle cx="91.00" cy="800.20" r="2.4" fill="#272a60"/>
<circle cx="110.71" cy="775.56" r="2.4" fill="#272a60"/>
<circle cx="130.41" cy="780.42" r="2.4" fill="#272a60"/>
<circle cx="150.12" cy="781.40" r="2.4" fill="#272a60"/>
<circle cx="169.83" cy="781.40" r="2.4" fill="#272a60"/>
<circle cx="189.54" cy="781.72" r="2.4" fill="#272a60"/>
<circle cx="209.24" cy="779.77" r="2.4" fill="#272a60"/>
<circle cx="228.95" cy="763.88" r="2.4" fill="#272a60"/>
<circle cx="248.66" cy="753.83" r="2.4" fill="#272a60"/>
<circle cx="268.37" cy="757.40" r="2.4" fill="#272a60"/>
<circle cx="288.07" cy="747.35" r="2.4" fill="#272a60"/>
<circle cx="307.78" cy="766.80" r="2.4" fill="#272a60"/>
<circle cx="327.49" cy="757.40" r="2.4" fill="#272a60"/>
<circle cx="347.20" cy="753.18" r="2.4" fill="#272a60"/>
<circle cx="366.90" cy="738.59" r="2.4" fill="#272a60"/>
<circle cx="386.61" cy="727.56" r="2.4" fill="#272a60"/>
<circle cx="406.32" cy="716.54" r="2.4" fill="#272a60"/>
<circle cx="426.02" cy="709.40" r="2.4" fill="#272a60"/>
<circle cx="445.73" cy="699.68" r="2.4" fill="#272a60"/>
<circle cx="465.44" cy="692.22" r="2.4" fill="#272a60"/>
<circle cx="485.15" cy="688.65" r="2.4" fill="#272a60"/>
<circle cx="504.85" cy="750.91" r="2.4" fill="#272a60"/>
<circle cx="524.56" cy="729.51" r="2.4" fill="#272a60"/>
<circle cx="544.27" cy="709.73" r="2.4" fill="#272a60"/>
<circle cx="563.98" cy="699.03" r="2.4" fill="#272a60"/>
<circle cx="583.68" cy="692.54" r="2.4" fill="#272a60"/>
<circle cx="603.39" cy="676.98" r="2.4" fill="#272a60"/>
<circle cx="623.10" cy="673.41" r="2.4" fill="#272a60"/>
<circle cx="642.80" cy="666.27" r="2.4" fill="#272a60"/>
<circle cx="662.51" cy="665.63" r="2.4" fill="#272a60"/>
<circle cx="682.22" cy="662.38" r="2.4" fill="#272a60"/>
<circle cx="701.93" cy="737.62" r="2.4" fill="#272a60"/>
<circle cx="721.63" cy="719.46" r="2.4" fill="#272a60"/>
<circle cx="741.34" cy="703.57" r="2.4" fill="#272a60"/>
<circle cx="761.05" cy="682.16" r="2.4" fill="#272a60"/>
<circle cx="780.76" cy="671.79" r="2.4" fill="#272a60"/>
<circle cx="800.46" cy="664.65" r="2.4" fill="#272a60"/>
<circle cx="820.17" cy="656.87" r="2.4" fill="#272a60"/>
<circle cx="839.88" cy="656.87" r="2.4" fill="#272a60"/>
<circle cx="859.59" cy="660.76" r="2.4" fill="#272a60"/>
<circle cx="879.29" cy="649.09" r="2.4" fill="#272a60"/>
<path d="M91.00 807.34 L110.71 803.45 L130.41 797.29 L150.12 792.42 L169.83 789.50 L189.54 787.56 L209.24 783.99 L228.95 777.83 L248.66 767.78 L268.37 770.37 L288.07 758.37 L307.78 790.80 L327.49 776.53 L347.20 764.86 L366.90 749.62 L386.61 738.91 L406.32 729.51 L426.02 719.78 L445.73 712.65 L465.44 699.68 L485.15 696.43 L504.85 785.61 L524.56 759.99 L544.27 729.51 L563.98 716.21 L583.68 702.92 L603.39 692.87 L623.10 689.30 L642.80 668.54 L662.51 661.73 L682.22 661.73 L701.93 777.83 L721.63 741.18 L741.34 708.76 L761.05 695.14 L780.76 688.33 L800.46 672.44 L820.17 672.44 L839.88 658.49 L859.59 657.52 L879.29 656.55" stroke="#3a5a36" stroke-width="2.2" fill="none" stroke-dasharray="7.8,3.4" stroke-linejoin="round"/>
<path d="M88.30 804.64l5.4 5.4m0 -5.4l-5.4 5.4M108.01 800.75l5.4 5.4m0 -5.4l-5.4 5.4M127.71 794.59l5.4 5.4m0 -5.4l-5.4 5.4M147.42 789.72l5.4 5.4m0 -5.4l-5.4 5.4M167.13 786.80l5.4 5.4m0 -5.4l-5.4 5.4M186.84 784.86l5.4 5.4m0 -5.4l-5.4 5.4M206.54 781.29l5.4 5.4m0 -5.4l-5.4 5.4M226.25 775.13l5.4 5.4m0 -5.4l-5.4 5.4M245.96 765.08l5.4 5.4m0 -5.4l-5.4 5.4M265.67 767.67l5.4 5.4m0 -5.4l-5.4 5.4M285.37 755.67l5.4 5.4m0 -5.4l-5.4 5.4M305.08 788.10l5.4 5.4m0 -5.4l-5.4 5.4M324.79 773.83l5.4 5.4m0 -5.4l-5.4 5.4M344.50 762.16l5.4 5.4m0 -5.4l-5.4 5.4M364.20 746.92l5.4 5.4m0 -5.4l-5.4 5.4M383.91 736.21l5.4 5.4m0 -5.4l-5.4 5.4M403.62 726.81l5.4 5.4m0 -5.4l-5.4 5.4M423.32 717.08l5.4 5.4m0 -5.4l-5.4 5.4M443.03 709.95l5.4 5.4m0 -5.4l-5.4 5.4M462.74 696.98l5.4 5.4m0 -5.4l-5.4 5.4M482.45 693.73l5.4 5.4m0 -5.4l-5.4 5.4M502.15 782.91l5.4 5.4m0 -5.4l-5.4 5.4M521.86 757.29l5.4 5.4m0 -5.4l-5.4 5.4M541.57 726.81l5.4 5.4m0 -5.4l-5.4 5.4M561.28 713.51l5.4 5.4m0 -5.4l-5.4 5.4M580.98 700.22l5.4 5.4m0 -5.4l-5.4 5.4M600.69 690.17l5.4 5.4m0 -5.4l-5.4 5.4M620.40 686.60l5.4 5.4m0 -5.4l-5.4 5.4M640.10 665.84l5.4 5.4m0 -5.4l-5.4 5.4M659.81 659.03l5.4 5.4m0 -5.4l-5.4 5.4M679.52 659.03l5.4 5.4m0 -5.4l-5.4 5.4M699.23 775.13l5.4 5.4m0 -5.4l-5.4 5.4M718.93 738.48l5.4 5.4m0 -5.4l-5.4 5.4M738.64 706.06l5.4 5.4m0 -5.4l-5.4 5.4M758.35 692.44l5.4 5.4m0 -5.4l-5.4 5.4M778.06 685.63l5.4 5.4m0 -5.4l-5.4 5.4M797.76 669.74l5.4 5.4m0 -5.4l-5.4 5.4M817.47 669.74l5.4 5.4m0 -5.4l-5.4 5.4M837.18 655.79l5.4 5.4m0 -5.4l-5.4 5.4M856.89 654.82l5.4 5.4m0 -5.4l-5.4 5.4M876.59 653.85l5.4 5.4m0 -5.4l-5.4 5.4" stroke="#3a5a36" stroke-width="1.1" fill="none"/>
<path d="M91.00 807.34 L110.71 803.45 L130.41 797.93 L150.12 791.45 L169.83 788.21 L189.54 789.50 L209.24 781.07 L228.95 776.53 L248.66 766.48 L268.37 759.67 L288.07 754.48 L307.78 792.10 L327.49 776.53 L347.20 760.64 L366.90 758.05 L386.61 737.29 L406.32 727.24 L426.02 721.40 L445.73 717.84 L465.44 703.24 L485.15 690.27 L504.85 788.21 L524.56 763.24 L544.27 736.97 L563.98 707.46 L583.68 696.76 L603.39 689.30 L623.10 676.00 L642.80 673.08 L662.51 672.11 L682.22 662.38 L701.93 781.07 L721.63 752.21 L741.34 725.94 L761.05 708.76 L780.76 681.84 L800.46 674.71 L820.17 675.35 L839.88 664.65 L859.59 662.38 L879.29 655.90" stroke="#8b1e3e" stroke-width="2.2" fill="none" stroke-dasharray="7.8,3.4" stroke-linejoin="round"/>
<path d="M88.30 804.64l5.4 5.4m0 -5.4l-5.4 5.4M108.01 800.75l5.4 5.4m0 -5.4l-5.4 5.4M127.71 795.23l5.4 5.4m0 -5.4l-5.4 5.4M147.42 788.75l5.4 5.4m0 -5.4l-5.4 5.4M167.13 785.51l5.4 5.4m0 -5.4l-5.4 5.4M186.84 786.80l5.4 5.4m0 -5.4l-5.4 5.4M206.54 778.37l5.4 5.4m0 -5.4l-5.4 5.4M226.25 773.83l5.4 5.4m0 -5.4l-5.4 5.4M245.96 763.78l5.4 5.4m0 -5.4l-5.4 5.4M265.67 756.97l5.4 5.4m0 -5.4l-5.4 5.4M285.37 751.78l5.4 5.4m0 -5.4l-5.4 5.4M305.08 789.40l5.4 5.4m0 -5.4l-5.4 5.4M324.79 773.83l5.4 5.4m0 -5.4l-5.4 5.4M344.50 757.94l5.4 5.4m0 -5.4l-5.4 5.4M364.20 755.35l5.4 5.4m0 -5.4l-5.4 5.4M383.91 734.59l5.4 5.4m0 -5.4l-5.4 5.4M403.62 724.54l5.4 5.4m0 -5.4l-5.4 5.4M423.32 718.70l5.4 5.4m0 -5.4l-5.4 5.4M443.03 715.14l5.4 5.4m0 -5.4l-5.4 5.4M462.74 700.54l5.4 5.4m0 -5.4l-5.4 5.4M482.45 687.57l5.4 5.4m0 -5.4l-5.4 5.4M502.15 785.51l5.4 5.4m0 -5.4l-5.4 5.4M521.86 760.54l5.4 5.4m0 -5.4l-5.4 5.4M541.57 734.27l5.4 5.4m0 -5.4l-5.4 5.4M561.28 704.76l5.4 5.4m0 -5.4l-5.4 5.4M580.98 694.06l5.4 5.4m0 -5.4l-5.4 5.4M600.69 686.60l5.4 5.4m0 -5.4l-5.4 5.4M620.40 673.30l5.4 5.4m0 -5.4l-5.4 5.4M640.10 670.38l5.4 5.4m0 -5.4l-5.4 5.4M659.81 669.41l5.4 5.4m0 -5.4l-5.4 5.4M679.52 659.68l5.4 5.4m0 -5.4l-5.4 5.4M699.23 778.37l5.4 5.4m0 -5.4l-5.4 5.4M718.93 749.51l5.4 5.4m0 -5.4l-5.4 5.4M738.64 723.24l5.4 5.4m0 -5.4l-5.4 5.4M758.35 706.06l5.4 5.4m0 -5.4l-5.4 5.4M778.06 679.14l5.4 5.4m0 -5.4l-5.4 5.4M797.76 672.01l5.4 5.4m0 -5.4l-5.4 5.4M817.47 672.65l5.4 5.4m0 -5.4l-5.4 5.4M837.18 661.95l5.4 5.4m0 -5.4l-5.4 5.4M856.89 659.68l5.4 5.4m0 -5.4l-5.4 5.4M876.59 653.20l5.4 5.4m0 -5.4l-5.4 5.4" stroke="#8b1e3e" stroke-width="1.1" fill="none"/>
<path d="M91.00 807.34 L110.71 803.45 L130.41 795.66 L150.12 787.56 L169.83 780.42 L189.54 774.59 L209.24 766.48 L228.95 759.02 L248.66 749.94 L268.37 740.86 L288.07 729.51 L307.78 789.18 L327.49 758.37 L347.20 742.16 L366.90 732.43 L386.61 712.97 L406.32 700.00 L426.02 691.89 L445.73 682.16 L465.44 679.89 L485.15 668.87 L504.85 781.07 L524.56 738.91 L544.27 706.49 L563.98 693.51 L583.68 670.49 L603.39 668.54 L623.10 666.27 L642.80 657.52 L662.51 654.60 L682.22 652.65 L701.93 762.26 L721.63 710.38 L741.34 691.89 L761.05 680.54 L780.76 673.41 L800.46 663.68 L820.17 653.63 L839.88 651.36 L859.59 649.41 L879.29 644.87" stroke="#9a9a9a" stroke-width="2.2" fill="none" stroke-dasharray="7.8,3.4" stroke-linejoin="round"/>
<path d="M88.30 804.64l5.4 5.4m0 -5.4l-5.4 5.4M108.01 800.75l5.4 5.4m0 -5.4l-5.4 5.4M127.71 792.96l5.4 5.4m0 -5.4l-5.4 5.4M147.42 784.86l5.4 5.4m0 -5.4l-5.4 5.4M167.13 777.72l5.4 5.4m0 -5.4l-5.4 5.4M186.84 771.89l5.4 5.4m0 -5.4l-5.4 5.4M206.54 763.78l5.4 5.4m0 -5.4l-5.4 5.4M226.25 756.32l5.4 5.4m0 -5.4l-5.4 5.4M245.96 747.24l5.4 5.4m0 -5.4l-5.4 5.4M265.67 738.16l5.4 5.4m0 -5.4l-5.4 5.4M285.37 726.81l5.4 5.4m0 -5.4l-5.4 5.4M305.08 786.48l5.4 5.4m0 -5.4l-5.4 5.4M324.79 755.67l5.4 5.4m0 -5.4l-5.4 5.4M344.50 739.46l5.4 5.4m0 -5.4l-5.4 5.4M364.20 729.73l5.4 5.4m0 -5.4l-5.4 5.4M383.91 710.27l5.4 5.4m0 -5.4l-5.4 5.4M403.62 697.30l5.4 5.4m0 -5.4l-5.4 5.4M423.32 689.19l5.4 5.4m0 -5.4l-5.4 5.4M443.03 679.46l5.4 5.4m0 -5.4l-5.4 5.4M462.74 677.19l5.4 5.4m0 -5.4l-5.4 5.4M482.45 666.17l5.4 5.4m0 -5.4l-5.4 5.4M502.15 778.37l5.4 5.4m0 -5.4l-5.4 5.4M521.86 736.21l5.4 5.4m0 -5.4l-5.4 5.4M541.57 703.79l5.4 5.4m0 -5.4l-5.4 5.4M561.28 690.81l5.4 5.4m0 -5.4l-5.4 5.4M580.98 667.79l5.4 5.4m0 -5.4l-5.4 5.4M600.69 665.84l5.4 5.4m0 -5.4l-5.4 5.4M620.40 663.57l5.4 5.4m0 -5.4l-5.4 5.4M640.10 654.82l5.4 5.4m0 -5.4l-5.4 5.4M659.81 651.90l5.4 5.4m0 -5.4l-5.4 5.4M679.52 649.95l5.4 5.4m0 -5.4l-5.4 5.4M699.23 759.56l5.4 5.4m0 -5.4l-5.4 5.4M718.93 707.68l5.4 5.4m0 -5.4l-5.4 5.4M738.64 689.19l5.4 5.4m0 -5.4l-5.4 5.4M758.35 677.84l5.4 5.4m0 -5.4l-5.4 5.4M778.06 670.71l5.4 5.4m0 -5.4l-5.4 5.4M797.76 660.98l5.4 5.4m0 -5.4l-5.4 5.4M817.47 650.93l5.4 5.4m0 -5.4l-5.4 5.4M837.18 648.66l5.4 5.4m0 -5.4l-5.4 5.4M856.89 646.71l5.4 5.4m0 -5.4l-5.4 5.4M876.59 642.17l5.4 5.4m0 -5.4l-5.4 5.4" stroke="#9a9a9a" stroke-width="1.1" fill="none"/>
<path d="M91.00 807.34 L110.71 803.45 L130.41 800.20 L150.12 794.04 L169.83 792.10 L189.54 785.94 L209.24 779.45 L228.95 771.34 L248.66 758.37 L268.37 739.56 L288.07 734.70 L307.78 790.80 L327.49 764.86 L347.20 751.89 L366.90 729.19 L386.61 703.24 L406.32 693.84 L426.02 687.35 L445.73 676.00 L465.44 661.73 L485.15 656.87 L504.85 784.31 L524.56 745.40 L544.27 706.49 L563.98 684.43 L583.68 678.92 L603.39 663.68 L623.10 660.76 L642.80 648.44 L662.51 646.49 L682.22 646.49 L701.93 774.59 L721.63 729.19 L741.34 700.00 L761.05 677.62 L780.76 653.95 L800.46 643.57 L820.17 640.01 L839.88 636.76 L859.59 632.87 L879.29 626.39" stroke="#e26841" stroke-width="2.2" fill="none" stroke-dasharray="7.8,3.4" stroke-linejoin="round"/>
<path d="M88.30 804.64l5.4 5.4m0 -5.4l-5.4 5.4M108.01 800.75l5.4 5.4m0 -5.4l-5.4 5.4M127.71 797.50l5.4 5.4m0 -5.4l-5.4 5.4M147.42 791.34l5.4 5.4m0 -5.4l-5.4 5.4M167.13 789.40l5.4 5.4m0 -5.4l-5.4 5.4M186.84 783.24l5.4 5.4m0 -5.4l-5.4 5.4M206.54 776.75l5.4 5.4m0 -5.4l-5.4 5.4M226.25 768.64l5.4 5.4m0 -5.4l-5.4 5.4M245.96 755.67l5.4 5.4m0 -5.4l-5.4 5.4M265.67 736.86l5.4 5.4m0 -5.4l-5.4 5.4M285.37 732.00l5.4 5.4m0 -5.4l-5.4 5.4M305.08 788.10l5.4 5.4m0 -5.4l-5.4 5.4M324.79 762.16l5.4 5.4m0 -5.4l-5.4 5.4M344.50 749.19l5.4 5.4m0 -5.4l-5.4 5.4M364.20 726.49l5.4 5.4m0 -5.4l-5.4 5.4M383.91 700.54l5.4 5.4m0 -5.4l-5.4 5.4M403.62 691.14l5.4 5.4m0 -5.4l-5.4 5.4M423.32 684.65l5.4 5.4m0 -5.4l-5.4 5.4M443.03 673.30l5.4 5.4m0 -5.4l-5.4 5.4M462.74 659.03l5.4 5.4m0 -5.4l-5.4 5.4M482.45 654.17l5.4 5.4m0 -5.4l-5.4 5.4M502.15 781.61l5.4 5.4m0 -5.4l-5.4 5.4M521.86 742.70l5.4 5.4m0 -5.4l-5.4 5.4M541.57 703.79l5.4 5.4m0 -5.4l-5.4 5.4M561.28 681.73l5.4 5.4m0 -5.4l-5.4 5.4M580.98 676.22l5.4 5.4m0 -5.4l-5.4 5.4M600.69 660.98l5.4 5.4m0 -5.4l-5.4 5.4M620.40 658.06l5.4 5.4m0 -5.4l-5.4 5.4M640.10 645.74l5.4 5.4m0 -5.4l-5.4 5.4M659.81 643.79l5.4 5.4m0 -5.4l-5.4 5.4M679.52 643.79l5.4 5.4m0 -5.4l-5.4 5.4M699.23 771.89l5.4 5.4m0 -5.4l-5.4 5.4M718.93 726.49l5.4 5.4m0 -5.4l-5.4 5.4M738.64 697.30l5.4 5.4m0 -5.4l-5.4 5.4M758.35 674.92l5.4 5.4m0 -5.4l-5.4 5.4M778.06 651.25l5.4 5.4m0 -5.4l-5.4 5.4M797.76 640.87l5.4 5.4m0 -5.4l-5.4 5.4M817.47 637.31l5.4 5.4m0 -5.4l-5.4 5.4M837.18 634.06l5.4 5.4m0 -5.4l-5.4 5.4M856.89 630.17l5.4 5.4m0 -5.4l-5.4 5.4M876.59 623.69l5.4 5.4m0 -5.4l-5.4 5.4" stroke="#e26841" stroke-width="1.1" fill="none"/>
<path d="M91.00 807.34 L110.71 803.45 L130.41 794.04 L150.12 783.02 L169.83 774.26 L189.54 765.18 L209.24 752.53 L228.95 742.16 L248.66 733.40 L268.37 723.02 L288.07 714.27 L307.78 786.26 L327.49 749.62 L347.20 732.43 L366.90 716.21 L386.61 706.49 L406.32 695.14 L426.02 687.03 L445.73 680.54 L465.44 676.33 L485.15 665.30 L504.85 777.83 L524.56 719.46 L544.27 696.76 L563.98 676.00 L583.68 663.36 L603.39 651.03 L623.10 647.14 L642.80 638.06 L662.51 637.74 L682.22 632.55 L701.93 771.34 L721.63 722.70 L741.34 683.79 L761.05 660.11 L780.76 648.11 L800.46 641.95 L820.17 636.44 L839.88 637.74 L859.59 638.71 L879.29 629.31" stroke="#8a5547" stroke-width="2.2" fill="none" stroke-dasharray="7.8,3.4" stroke-linejoin="round"/>
<path d="M88.30 804.64l5.4 5.4m0 -5.4l-5.4 5.4M108.01 800.75l5.4 5.4m0 -5.4l-5.4 5.4M127.71 791.34l5.4 5.4m0 -5.4l-5.4 5.4M147.42 780.32l5.4 5.4m0 -5.4l-5.4 5.4M167.13 771.56l5.4 5.4m0 -5.4l-5.4 5.4M186.84 762.48l5.4 5.4m0 -5.4l-5.4 5.4M206.54 749.83l5.4 5.4m0 -5.4l-5.4 5.4M226.25 739.46l5.4 5.4m0 -5.4l-5.4 5.4M245.96 730.70l5.4 5.4m0 -5.4l-5.4 5.4M265.67 720.32l5.4 5.4m0 -5.4l-5.4 5.4M285.37 711.57l5.4 5.4m0 -5.4l-5.4 5.4M305.08 783.56l5.4 5.4m0 -5.4l-5.4 5.4M324.79 746.92l5.4 5.4m0 -5.4l-5.4 5.4M344.50 729.73l5.4 5.4m0 -5.4l-5.4 5.4M364.20 713.51l5.4 5.4m0 -5.4l-5.4 5.4M383.91 703.79l5.4 5.4m0 -5.4l-5.4 5.4M403.62 692.44l5.4 5.4m0 -5.4l-5.4 5.4M423.32 684.33l5.4 5.4m0 -5.4l-5.4 5.4M443.03 677.84l5.4 5.4m0 -5.4l-5.4 5.4M462.74 673.63l5.4 5.4m0 -5.4l-5.4 5.4M482.45 662.60l5.4 5.4m0 -5.4l-5.4 5.4M502.15 775.13l5.4 5.4m0 -5.4l-5.4 5.4M521.86 716.76l5.4 5.4m0 -5.4l-5.4 5.4M541.57 694.06l5.4 5.4m0 -5.4l-5.4 5.4M561.28 673.30l5.4 5.4m0 -5.4l-5.4 5.4M580.98 660.66l5.4 5.4m0 -5.4l-5.4 5.4M600.69 648.33l5.4 5.4m0 -5.4l-5.4 5.4M620.40 644.44l5.4 5.4m0 -5.4l-5.4 5.4M640.10 635.36l5.4 5.4m0 -5.4l-5.4 5.4M659.81 635.04l5.4 5.4m0 -5.4l-5.4 5.4M679.52 629.85l5.4 5.4m0 -5.4l-5.4 5.4M699.23 768.64l5.4 5.4m0 -5.4l-5.4 5.4M718.93 720.00l5.4 5.4m0 -5.4l-5.4 5.4M738.64 681.09l5.4 5.4m0 -5.4l-5.4 5.4M758.35 657.41l5.4 5.4m0 -5.4l-5.4 5.4M778.06 645.41l5.4 5.4m0 -5.4l-5.4 5.4M797.76 639.25l5.4 5.4m0 -5.4l-5.4 5.4M817.47 633.74l5.4 5.4m0 -5.4l-5.4 5.4M837.18 635.04l5.4 5.4m0 -5.4l-5.4 5.4M856.89 636.01l5.4 5.4m0 -5.4l-5.4 5.4M876.59 626.61l5.4 5.4m0 -5.4l-5.4 5.4" stroke="#8a5547" stroke-width="1.1" fill="none"/>
<path d="M91.00 807.34 L110.71 803.45 L130.41 797.29 L150.12 790.80 L169.83 788.21 L189.54 784.96 L209.24 780.42 L228.95 774.59 L248.66 758.37 L268.37 746.70 L288.07 745.08 L307.78 793.39 L327.49 762.91 L347.20 741.18 L366.90 724.00 L386.61 716.21 L406.32 706.81 L426.02 692.22 L445.73 681.19 L465.44 667.90 L485.15 656.87 L504.85 784.31 L524.56 738.91 L544.27 705.19 L563.98 691.89 L583.68 673.41 L603.39 667.25 L623.10 653.30 L642.80 647.79 L662.51 645.52 L682.22 638.06 L701.93 778.48 L721.63 732.43 L741.34 682.49 L761.05 661.09 L780.76 650.06 L800.46 641.95 L820.17 638.71 L839.88 630.28 L859.59 632.87 L879.29 630.28" stroke="#272a60" stroke-width="2.2" fill="none" stroke-dasharray="7.8,3.4" stroke-linejoin="round"/>
<path d="M88.30 804.64l5.4 5.4m0 -5.4l-5.4 5.4M108.01 800.75l5.4 5.4m0 -5.4l-5.4 5.4M127.71 794.59l5.4 5.4m0 -5.4l-5.4 5.4M147.42 788.10l5.4 5.4m0 -5.4l-5.4 5.4M167.13 785.51l5.4 5.4m0 -5.4l-5.4 5.4M186.84 782.26l5.4 5.4m0 -5.4l-5.4 5.4M206.54 777.72l5.4 5.4m0 -5.4l-5.4 5.4M226.25 771.89l5.4 5.4m0 -5.4l-5.4 5.4M245.96 755.67l5.4 5.4m0 -5.4l-5.4 5.4M265.67 744.00l5.4 5.4m0 -5.4l-5.4 5.4M285.37 742.38l5.4 5.4m0 -5.4l-5.4 5.4M305.08 790.69l5.4 5.4m0 -5.4l-5.4 5.4M324.79 760.21l5.4 5.4m0 -5.4l-5.4 5.4M344.50 738.48l5.4 5.4m0 -5.4l-5.4 5.4M364.20 721.30l5.4 5.4m0 -5.4l-5.4 5.4M383.91 713.51l5.4 5.4m0 -5.4l-5.4 5.4M403.62 704.11l5.4 5.4m0 -5.4l-5.4 5.4M423.32 689.52l5.4 5.4m0 -5.4l-5.4 5.4M443.03 678.49l5.4 5.4m0 -5.4l-5.4 5.4M462.74 665.20l5.4 5.4m0 -5.4l-5.4 5.4M482.45 654.17l5.4 5.4m0 -5.4l-5.4 5.4M502.15 781.61l5.4 5.4m0 -5.4l-5.4 5.4M521.86 736.21l5.4 5.4m0 -5.4l-5.4 5.4M541.57 702.49l5.4 5.4m0 -5.4l-5.4 5.4M561.28 689.19l5.4 5.4m0 -5.4l-5.4 5.4M580.98 670.71l5.4 5.4m0 -5.4l-5.4 5.4M600.69 664.55l5.4 5.4m0 -5.4l-5.4 5.4M620.40 650.60l5.4 5.4m0 -5.4l-5.4 5.4M640.10 645.09l5.4 5.4m0 -5.4l-5.4 5.4M659.81 642.82l5.4 5.4m0 -5.4l-5.4 5.4M679.52 635.36l5.4 5.4m0 -5.4l-5.4 5.4M699.23 775.78l5.4 5.4m0 -5.4l-5.4 5.4M718.93 729.73l5.4 5.4m0 -5.4l-5.4 5.4M738.64 679.79l5.4 5.4m0 -5.4l-5.4 5.4M758.35 658.39l5.4 5.4m0 -5.4l-5.4 5.4M778.06 647.36l5.4 5.4m0 -5.4l-5.4 5.4M797.76 639.25l5.4 5.4m0 -5.4l-5.4 5.4M817.47 636.01l5.4 5.4m0 -5.4l-5.4 5.4M837.18 627.58l5.4 5.4m0 -5.4l-5.4 5.4M856.89 630.17l5.4 5.4m0 -5.4l-5.4 5.4M876.59 627.58l5.4 5.4m0 -5.4l-5.4 5.4" stroke="#272a60" stroke-width="1.1" fill="none"/>
</g>
<path d="M87.50 813.50H91.00M87.50 781.07H91.00M87.50 748.64H91.00M87.50 716.21H91.00M87.50 683.79H91.00M87.50 651.36H91.00M87.50 618.93H91.00M87.50 586.50H91.00M91.00 813.50V817.00M130.41 813.50V817.00M169.83 813.50V817.00M209.24 813.50V817.00M248.66 813.50V817.00M288.07 813.50V817.00M327.49 813.50V817.00M366.90 813.50V817.00M406.32 813.50V817.00M445.73 813.50V817.00M485.15 813.50V817.00M524.56 813.50V817.00M563.98 813.50V817.00M603.39 813.50V817.00M642.80 813.50V817.00M682.22 813.50V817.00M721.63 813.50V817.00M761.05 813.50V817.00M800.46 813.50V817.00M839.88 813.50V817.00M879.29 813.50V817.00" stroke="#333" stroke-width="1.1" fill="none"/>
<text x="86.8" y="823.90" text-anchor="end" font-family='"Liberation Serif", serif' font-size="30.8">0.1</text>
<text x="86.8" y="791.47" text-anchor="end" font-family='"Liberation Serif", serif' font-size="30.8">0.2</text>
<text x="86.8" y="759.04" text-anchor="end" font-family='"Liberation Serif", serif' font-size="30.8">0.3</text>
<text x="86.8" y="726.61" text-anchor="end" font-family='"Liberation Serif", serif' font-size="30.8">0.4</text>
<text x="86.8" y="694.19" text-anchor="end" font-family='"Liberation Serif", serif' font-size="30.8">0.5</text>
<text x="86.8" y="661.76" text-anchor="end" font-family='"Liberation Serif", serif' font-size="30.8">0.6</text>
<text x="86.8" y="629.33" text-anchor="end" font-family='"Liberation Serif", serif' font-size="30.8">0.7</text>
<text x="86.8" y="596.90" text-anchor="end" font-family='"Liberation Serif", serif' font-size="30.8">0.8</text>
<text x="495.00" y="572.00" text-anchor="middle" font-family='"Liberation Serif", serif' font-size="36.56">Model Performance with 3 Event Interferences</text>
<text x="91.00" y="840.00" text-anchor="middle" font-family='"Liberation Serif", serif' font-size="30.8">0</text>
<text x="130.41" y="840.00" text-anchor="middle" font-family='"Liberation Serif", serif' font-size="30.8">2</text>
<text x="169.83" y="840.00" text-anchor="middle" font-family='"Liberation Serif", serif' font-size="30.8">4</text>
<text x="209.24" y="840.00" text-anchor="middle" font-family='"Liberation Serif", serif' font-size="30.8">6</text>
<text x="248.66" y="840.00" text-anchor="middle" font-family='"Liberation Serif", serif' font-size="30.8">8</text>
<text x="288.07" y="840.00" text-anchor="middle" font-family='"Liberation Serif", serif' font-size="30.8">10</text>
<text x="327.49" y="840.00" text-anchor="middle" font-family='"Liberation Serif", serif' font-size="30.8">12</text>
<text x="366.90" y="840.00" text-anchor="middle" font-family='"Liberation Serif", serif' font-size="30.8">14</text>
<text x="406.32" y="840.00" text-anchor="middle" font-family='"Liberation Serif", serif' font-size="30.8">16</text>
<text x="445.73" y="840.00" text-anchor="middle" font-family='"Liberation Serif", serif' font-size="30.8">18</text>
<text x="485.15" y="840.00" text-anchor="middle" font-family='"Liberation Serif", serif' font-size="30.8">20</text>
<text x="524.56" y="840.00" text-anchor="middle" font-family='"Liberation Serif", serif' font-size="30.8">22</text>
<text x="563.98" y="840.00" text-anchor="middle" font-family='"Liberation Serif", serif' font-size="30.8">24</text>
<text x="603.39" y="840.00" text-anchor="middle" font-family='"Liberation Serif", serif' font-size="30.8">26</text>
<text x="642.80" y="840.00" text-anchor="middle" font-family='"Liberation Serif", serif' font-size="30.8">28</text>
<text x="682.22" y="840.00" text-anchor="middle" font-family='"Liberation Serif", serif' font-size="30.8">30</text>
<text x="721.63" y="840.00" text-anchor="middle" font-family='"Liberation Serif", serif' font-size="30.8">32</text>
<text x="761.05" y="840.00" text-anchor="middle" font-family='"Liberation Serif", serif' font-size="30.8">34</text>
<text x="800.46" y="840.00" text-anchor="middle" font-family='"Liberation Serif", serif' font-size="30.8">36</text>
<text x="839.88" y="840.00" text-anchor="middle" font-family='"Liberation Serif", serif' font-size="30.8">38</text>
<text x="879.29" y="840.00" text-anchor="middle" font-family='"Liberation Serif", serif' font-size="30.8">40</text>
<text x="495" y="883" text-anchor="middle" font-family='"Liberation Serif", serif' font-size="38.1">Dialogue Turn</text>
<text transform="translate(26.1,600.8) rotate(-90)" text-anchor="middle" font-family='"Liberation Serif", serif' font-size="38.1">Average Sentiment Score</text>
<defs>
<clipPath id="c0"><rect x="90.30" y="41.00" width="809.20" height="228.00"/></clipPath>
<clipPath id="c1"><rect x="90.30" y="313.50" width="809.20" height="228.00"/></clipPath>
<clipPath id="c2"><rect x="90.30" y="586.00" width="809.20" height="228.00"/></clipPath>
</defs>
<rect x="29" y="900" width="43" height="34.8" fill="#3a5a36"/>
<text x="93.2" y="926" font-family='"Liberation Serif", serif' font-size="28.2">Gemini-2.5-Pro</text>
<rect x="29" y="948.2" width="43" height="34.8" fill="#8b1e3e"/>
<text x="93.2" y="974.5" font-family='"Liberation Serif", serif' font-size="28.2">Claude-Opus-4</text>
<rect x="29" y="996.2" width="43" height="34.8" fill="#fbd98a"/>
<text x="93.2" y="1022.5" font-family='"Liberation Serif", serif' font-size="28.2">Deepseek-R1</text>
<rect x="327" y="900" width="43" height="34.8" fill="#e26841"/>
<text x="391.8" y="926" font-family='"Liberation Serif", serif' font-size="28.2">Doubao-Seed-1.6</text>
<rect x="327" y="948.2" width="43" height="34.8" fill="#8a5547"/>
<text x="391.8" y="974.5" font-family='"Liberation Serif", serif' font-size="28.2">Kimi-K2-Preview</text>
<rect x="327" y="996.2" width="43" height="34.8" fill="#272a60"/>
<text x="391.8" y="1022.5" font-family='"Liberation Serif", serif' font-size="28.2">Chatgpt-4o-Latest</text>
<path d="M650 913.2H696" stroke="#000" stroke-width="3.2"/>
<circle cx="673.1" cy="913.2" r="5.4" fill="#000"/>
<path d="M652.1 961.5H694.4" stroke="#000" stroke-width="3.2" stroke-dasharray="12.9,5.9"/>
<path d="M667.8 956.1l11 10.8m0 -10.8l-11 10.8" stroke="#000" stroke-width="1.1"/>
<text x="716.9" y="926" font-family='"Liberation Serif", serif' font-size="28.2">Chinese (zh)</text>
<text x="716.9" y="975" font-family='"Liberation Serif", serif' font-size="28.2">English (en)</text>
</svg></body></html>
